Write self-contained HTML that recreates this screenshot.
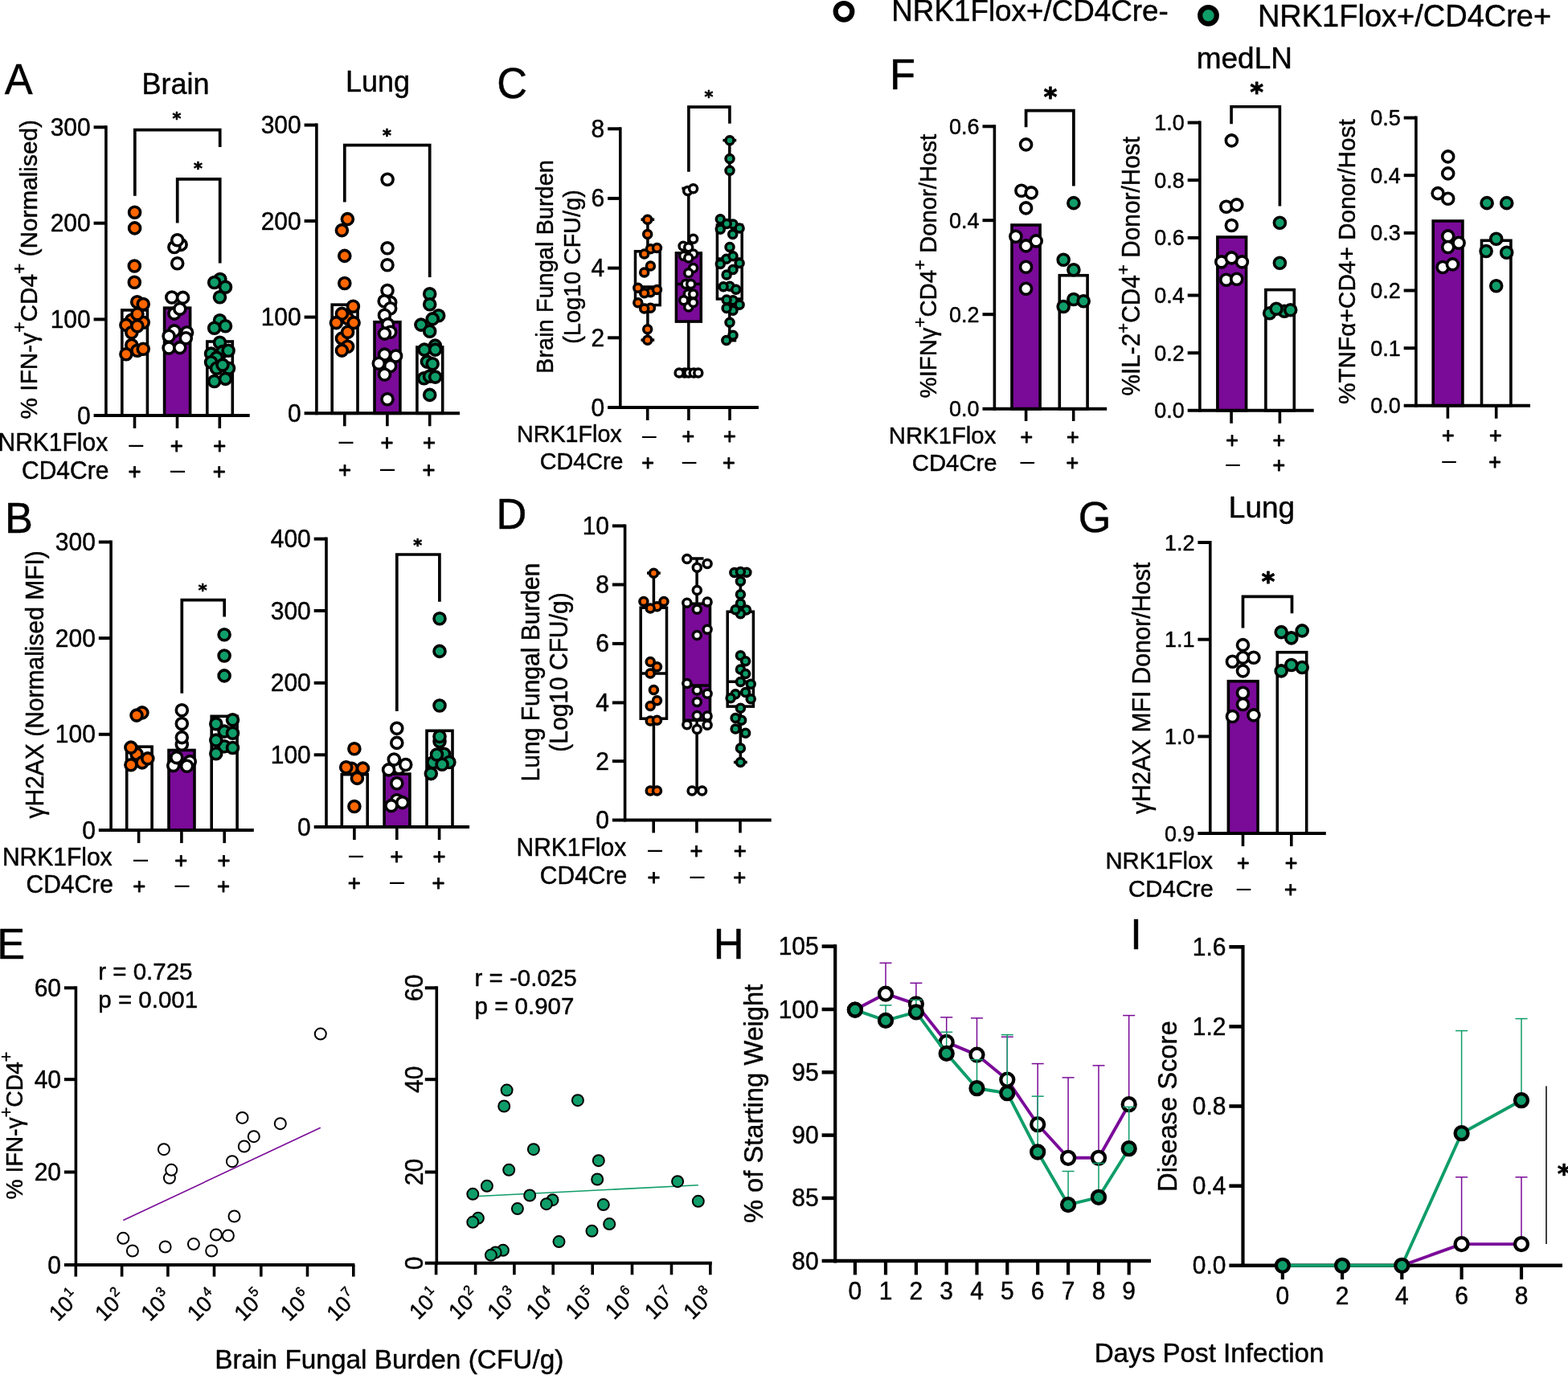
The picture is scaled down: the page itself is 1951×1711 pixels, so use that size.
<!DOCTYPE html>
<html lang="en">
<head>
<meta charset="utf-8">
<title>Figure</title>
<style>
html,body{margin:0;padding:0;background:#fff;}
body{width:1951px;height:1711px;overflow:hidden;}
svg{display:block;}
svg text{font-family:"Liberation Sans", Arial, Helvetica, sans-serif;fill:#000;}
</style>
</head>
<body>
<svg xmlns="http://www.w3.org/2000/svg" width="1951" height="1711" viewBox="0 0 1951 1711">
<rect x="0" y="0" width="1951" height="1711" fill="#fff"/>
<text transform="translate(5.7 117.1) scale(1 1.015)" font-size="52.4" stroke="#000" stroke-width="0.45" stroke-linejoin="round">A</text>
<text transform="translate(218.6 117.1) scale(1 1.020)" font-size="36" text-anchor="middle" stroke="#000" stroke-width="0.45" stroke-linejoin="round">Brain</text>
<rect x="151.8" y="385.9" width="31.6" height="131.1" fill="#FFFFFF" stroke="#000000" stroke-width="3.6"/>
<rect x="204.6" y="383.2" width="32" height="133.8" fill="#7A0A98" stroke="#000000" stroke-width="3.6"/>
<rect x="257.8" y="425" width="31.5" height="92" fill="#FFFFFF" stroke="#000000" stroke-width="3.6"/>
<line x1="131.9" y1="156.3" x2="131.9" y2="519" stroke="#000000" stroke-width="3.6" stroke-linecap="butt"/>
<line x1="116.6" y1="517" x2="310.7" y2="517" stroke="#000000" stroke-width="4" stroke-linecap="butt"/>
<line x1="116.6" y1="158.3" x2="131.9" y2="158.3" stroke="#000000" stroke-width="4" stroke-linecap="butt"/>
<text transform="translate(112.7 168.8) scale(1 1.020)" font-size="30" text-anchor="end" stroke="#000" stroke-width="0.45" stroke-linejoin="round">300</text>
<line x1="116.6" y1="277.7" x2="131.9" y2="277.7" stroke="#000000" stroke-width="4" stroke-linecap="butt"/>
<text transform="translate(112.7 288.2) scale(1 1.020)" font-size="30" text-anchor="end" stroke="#000" stroke-width="0.45" stroke-linejoin="round">200</text>
<line x1="116.6" y1="397.4" x2="131.9" y2="397.4" stroke="#000000" stroke-width="4" stroke-linecap="butt"/>
<text transform="translate(112.7 407.9) scale(1 1.020)" font-size="30" text-anchor="end" stroke="#000" stroke-width="0.45" stroke-linejoin="round">100</text>
<text transform="translate(112.7 527.5) scale(1 1.020)" font-size="30" text-anchor="end" stroke="#000" stroke-width="0.45" stroke-linejoin="round">0</text>
<line x1="167.5" y1="517" x2="167.5" y2="533" stroke="#000000" stroke-width="3.6" stroke-linecap="butt"/>
<line x1="220.5" y1="517" x2="220.5" y2="533" stroke="#000000" stroke-width="3.6" stroke-linecap="butt"/>
<line x1="273.3" y1="517" x2="273.3" y2="533" stroke="#000000" stroke-width="3.6" stroke-linecap="butt"/>
<text transform="translate(45.6 521.4) rotate(-90) scale(1 1.020)" font-size="29.8" stroke="#000" stroke-width="0.45" stroke-linejoin="round">% IFN-γ<tspan dy="-13" font-size="22.7">+</tspan><tspan dy="13">CD4</tspan><tspan dy="-13" font-size="22.7">+</tspan><tspan dy="13"> (Normalised)</tspan></text>
<circle cx="167.6" cy="264.2" r="7" fill="#FF6600" stroke="#000000" stroke-width="3.6"/>
<circle cx="167.6" cy="283.9" r="7" fill="#FF6600" stroke="#000000" stroke-width="3.6"/>
<circle cx="167.3" cy="331" r="7" fill="#FF6600" stroke="#000000" stroke-width="3.6"/>
<circle cx="167.3" cy="351.3" r="7" fill="#FF6600" stroke="#000000" stroke-width="3.6"/>
<circle cx="170.7" cy="375.7" r="7" fill="#FF6600" stroke="#000000" stroke-width="3.6"/>
<circle cx="178.2" cy="378.5" r="7" fill="#FF6600" stroke="#000000" stroke-width="3.6"/>
<circle cx="163.8" cy="398.2" r="7" fill="#FF6600" stroke="#000000" stroke-width="3.6"/>
<circle cx="178.2" cy="401.3" r="7" fill="#FF6600" stroke="#000000" stroke-width="3.6"/>
<circle cx="170.9" cy="390.7" r="7" fill="#FF6600" stroke="#000000" stroke-width="3.6"/>
<circle cx="156.9" cy="404.4" r="7" fill="#FF6600" stroke="#000000" stroke-width="3.6"/>
<circle cx="163.8" cy="413.8" r="7" fill="#FF6600" stroke="#000000" stroke-width="3.6"/>
<circle cx="170.9" cy="405.7" r="7" fill="#FF6600" stroke="#000000" stroke-width="3.6"/>
<circle cx="163.8" cy="429.5" r="7" fill="#FF6600" stroke="#000000" stroke-width="3.6"/>
<circle cx="170.9" cy="436.3" r="7" fill="#FF6600" stroke="#000000" stroke-width="3.6"/>
<circle cx="178.2" cy="434.2" r="7" fill="#FF6600" stroke="#000000" stroke-width="3.6"/>
<circle cx="156.9" cy="440.7" r="7" fill="#FF6600" stroke="#000000" stroke-width="3.6"/>
<circle cx="225.1" cy="304.4" r="7" fill="#FFFFFF" stroke="#000000" stroke-width="3.6"/>
<circle cx="216.9" cy="307.5" r="7" fill="#FFFFFF" stroke="#000000" stroke-width="3.6"/>
<circle cx="220.7" cy="298.8" r="7" fill="#FFFFFF" stroke="#000000" stroke-width="3.6"/>
<circle cx="220.7" cy="327.8" r="7" fill="#FFFFFF" stroke="#000000" stroke-width="3.6"/>
<circle cx="213.8" cy="370" r="7" fill="#FFFFFF" stroke="#000000" stroke-width="3.6"/>
<circle cx="227.6" cy="370.4" r="7" fill="#FFFFFF" stroke="#000000" stroke-width="3.6"/>
<circle cx="216.9" cy="390.1" r="7" fill="#FFFFFF" stroke="#000000" stroke-width="3.6"/>
<circle cx="223.8" cy="384.4" r="7" fill="#FFFFFF" stroke="#000000" stroke-width="3.6"/>
<circle cx="216.9" cy="411.9" r="7" fill="#FFFFFF" stroke="#000000" stroke-width="3.6"/>
<circle cx="232.6" cy="413.8" r="7" fill="#FFFFFF" stroke="#000000" stroke-width="3.6"/>
<circle cx="210.1" cy="418.2" r="7" fill="#FFFFFF" stroke="#000000" stroke-width="3.6"/>
<circle cx="231.3" cy="420.7" r="7" fill="#FFFFFF" stroke="#000000" stroke-width="3.6"/>
<circle cx="210.1" cy="433" r="7" fill="#FFFFFF" stroke="#000000" stroke-width="3.6"/>
<circle cx="223.8" cy="432.6" r="7" fill="#FFFFFF" stroke="#000000" stroke-width="3.6"/>
<circle cx="273.9" cy="347.5" r="7" fill="#0F9D69" stroke="#000000" stroke-width="3.6"/>
<circle cx="266.7" cy="351.5" r="7" fill="#0F9D69" stroke="#000000" stroke-width="3.6"/>
<circle cx="280.5" cy="357.2" r="7" fill="#0F9D69" stroke="#000000" stroke-width="3.6"/>
<circle cx="273.5" cy="369.7" r="7" fill="#0F9D69" stroke="#000000" stroke-width="3.6"/>
<circle cx="273.5" cy="398.8" r="7" fill="#0F9D69" stroke="#000000" stroke-width="3.6"/>
<circle cx="266.7" cy="408.2" r="7" fill="#0F9D69" stroke="#000000" stroke-width="3.6"/>
<circle cx="280.5" cy="405.7" r="7" fill="#0F9D69" stroke="#000000" stroke-width="3.6"/>
<circle cx="273.5" cy="426.3" r="7" fill="#0F9D69" stroke="#000000" stroke-width="3.6"/>
<circle cx="262.6" cy="440.1" r="7" fill="#0F9D69" stroke="#000000" stroke-width="3.6"/>
<circle cx="277" cy="437.6" r="7" fill="#0F9D69" stroke="#000000" stroke-width="3.6"/>
<circle cx="284.1" cy="436.3" r="7" fill="#0F9D69" stroke="#000000" stroke-width="3.6"/>
<circle cx="269.5" cy="445.1" r="7" fill="#0F9D69" stroke="#000000" stroke-width="3.6"/>
<circle cx="262.6" cy="450.7" r="7" fill="#0F9D69" stroke="#000000" stroke-width="3.6"/>
<circle cx="269.5" cy="458.2" r="7" fill="#0F9D69" stroke="#000000" stroke-width="3.6"/>
<circle cx="284.5" cy="458.2" r="7" fill="#0F9D69" stroke="#000000" stroke-width="3.6"/>
<circle cx="277" cy="454.1" r="7" fill="#0F9D69" stroke="#000000" stroke-width="3.6"/>
<circle cx="266.7" cy="474.5" r="7" fill="#0F9D69" stroke="#000000" stroke-width="3.6"/>
<circle cx="280.5" cy="471.4" r="7" fill="#0F9D69" stroke="#000000" stroke-width="3.6"/>
<path d="M167.8 243.8V161.6H273.7V183" fill="none" stroke="#000000" stroke-width="3.7" stroke-linejoin="miter" stroke-linecap="butt"/>
<text transform="translate(220 155.3) scale(1 1.001)" font-size="20.8" text-anchor="middle" font-weight="bold" style="font-family:'DejaVu Sans', 'Liberation Sans', sans-serif" stroke="#000" stroke-width="0.7" stroke-linejoin="round">*</text>
<path d="M220.7 277.4V222.9H273.7V327.4" fill="none" stroke="#000000" stroke-width="3.7" stroke-linejoin="miter" stroke-linecap="butt"/>
<text transform="translate(246.4 216.8) scale(1 1.001)" font-size="20.8" text-anchor="middle" font-weight="bold" style="font-family:'DejaVu Sans', 'Liberation Sans', sans-serif" stroke="#000" stroke-width="0.7" stroke-linejoin="round">*</text>
<text transform="translate(134.2 561.3) scale(1 1.020)" font-size="30" text-anchor="end" stroke="#000" stroke-width="0.45" stroke-linejoin="round">NRK1Flox</text>
<text transform="translate(135.4 595.8) scale(1 1.020)" font-size="30" text-anchor="end" stroke="#000" stroke-width="0.45" stroke-linejoin="round">CD4Cre</text>
<text transform="translate(169.3 562.9) scale(1 1.001)" font-size="32.4" text-anchor="middle">–</text>
<text transform="translate(219.8 563.8) scale(1 1.001)" font-size="27.45" text-anchor="middle" stroke="#000" stroke-width="0.9" stroke-linejoin="round">+</text>
<text transform="translate(273.3 563.8) scale(1 1.001)" font-size="27.45" text-anchor="middle" stroke="#000" stroke-width="0.9" stroke-linejoin="round">+</text>
<text transform="translate(167.5 596.1) scale(1 1.001)" font-size="27.45" text-anchor="middle" stroke="#000" stroke-width="0.9" stroke-linejoin="round">+</text>
<text transform="translate(221 595.2) scale(1 1.001)" font-size="32.4" text-anchor="middle">–</text>
<text transform="translate(272.8 596.1) scale(1 1.001)" font-size="27.45" text-anchor="middle" stroke="#000" stroke-width="0.9" stroke-linejoin="round">+</text>
<text transform="translate(470 114) scale(1 1.020)" font-size="36" text-anchor="middle" stroke="#000" stroke-width="0.45" stroke-linejoin="round">Lung</text>
<rect x="413.2" y="379.2" width="31.8" height="135.1" fill="#FFFFFF" stroke="#000000" stroke-width="3.6"/>
<rect x="466" y="400.7" width="31.9" height="113.6" fill="#7A0A98" stroke="#000000" stroke-width="3.6"/>
<rect x="518.9" y="432" width="31.8" height="82.3" fill="#FFFFFF" stroke="#000000" stroke-width="3.6"/>
<line x1="393.9" y1="153.6" x2="393.9" y2="516.3" stroke="#000000" stroke-width="3.6" stroke-linecap="butt"/>
<line x1="378.6" y1="514.3" x2="572" y2="514.3" stroke="#000000" stroke-width="4" stroke-linecap="butt"/>
<line x1="378.6" y1="155.6" x2="393.9" y2="155.6" stroke="#000000" stroke-width="4" stroke-linecap="butt"/>
<text transform="translate(374.7 166.1) scale(1 1.020)" font-size="30" text-anchor="end" stroke="#000" stroke-width="0.45" stroke-linejoin="round">300</text>
<line x1="378.6" y1="275" x2="393.9" y2="275" stroke="#000000" stroke-width="4" stroke-linecap="butt"/>
<text transform="translate(374.7 285.5) scale(1 1.020)" font-size="30" text-anchor="end" stroke="#000" stroke-width="0.45" stroke-linejoin="round">200</text>
<line x1="378.6" y1="394.6" x2="393.9" y2="394.6" stroke="#000000" stroke-width="4" stroke-linecap="butt"/>
<text transform="translate(374.7 405.1) scale(1 1.020)" font-size="30" text-anchor="end" stroke="#000" stroke-width="0.45" stroke-linejoin="round">100</text>
<text transform="translate(374.7 524.8) scale(1 1.020)" font-size="30" text-anchor="end" stroke="#000" stroke-width="0.45" stroke-linejoin="round">0</text>
<line x1="428.8" y1="514.3" x2="428.8" y2="530.3" stroke="#000000" stroke-width="3.6" stroke-linecap="butt"/>
<line x1="481.9" y1="514.3" x2="481.9" y2="530.3" stroke="#000000" stroke-width="3.6" stroke-linecap="butt"/>
<line x1="534.7" y1="514.3" x2="534.7" y2="530.3" stroke="#000000" stroke-width="3.6" stroke-linecap="butt"/>
<circle cx="432.4" cy="272.6" r="7" fill="#FF6600" stroke="#000000" stroke-width="3.6"/>
<circle cx="425.4" cy="286.6" r="7" fill="#FF6600" stroke="#000000" stroke-width="3.6"/>
<circle cx="428.8" cy="318.4" r="7" fill="#FF6600" stroke="#000000" stroke-width="3.6"/>
<circle cx="428.8" cy="352.5" r="7" fill="#FF6600" stroke="#000000" stroke-width="3.6"/>
<circle cx="439.4" cy="381.3" r="7" fill="#FF6600" stroke="#000000" stroke-width="3.6"/>
<circle cx="432.6" cy="396.3" r="7" fill="#FF6600" stroke="#000000" stroke-width="3.6"/>
<circle cx="425.4" cy="390.4" r="7" fill="#FF6600" stroke="#000000" stroke-width="3.6"/>
<circle cx="440.1" cy="401.6" r="7" fill="#FF6600" stroke="#000000" stroke-width="3.6"/>
<circle cx="418.4" cy="401.6" r="7" fill="#FF6600" stroke="#000000" stroke-width="3.6"/>
<circle cx="425.4" cy="421.1" r="7" fill="#FF6600" stroke="#000000" stroke-width="3.6"/>
<circle cx="432.6" cy="413.2" r="7" fill="#FF6600" stroke="#000000" stroke-width="3.6"/>
<circle cx="432.6" cy="431.3" r="7" fill="#FF6600" stroke="#000000" stroke-width="3.6"/>
<circle cx="425.4" cy="436.1" r="7" fill="#FF6600" stroke="#000000" stroke-width="3.6"/>
<circle cx="482.1" cy="223.2" r="7" fill="#FFFFFF" stroke="#000000" stroke-width="3.6"/>
<circle cx="482" cy="308.8" r="7" fill="#FFFFFF" stroke="#000000" stroke-width="3.6"/>
<circle cx="482" cy="329.8" r="7" fill="#FFFFFF" stroke="#000000" stroke-width="3.6"/>
<circle cx="482" cy="361.5" r="7" fill="#FFFFFF" stroke="#000000" stroke-width="3.6"/>
<circle cx="485.7" cy="376.3" r="7" fill="#FFFFFF" stroke="#000000" stroke-width="3.6"/>
<circle cx="478.2" cy="374.8" r="7" fill="#FFFFFF" stroke="#000000" stroke-width="3.6"/>
<circle cx="485.7" cy="383.8" r="7" fill="#FFFFFF" stroke="#000000" stroke-width="3.6"/>
<circle cx="478.5" cy="392.2" r="7" fill="#FFFFFF" stroke="#000000" stroke-width="3.6"/>
<circle cx="482.6" cy="403.6" r="7" fill="#FFFFFF" stroke="#000000" stroke-width="3.6"/>
<circle cx="485.7" cy="413.2" r="7" fill="#FFFFFF" stroke="#000000" stroke-width="3.6"/>
<circle cx="478.5" cy="415.1" r="7" fill="#FFFFFF" stroke="#000000" stroke-width="3.6"/>
<circle cx="478.5" cy="441.1" r="7" fill="#FFFFFF" stroke="#000000" stroke-width="3.6"/>
<circle cx="492.6" cy="443" r="7" fill="#FFFFFF" stroke="#000000" stroke-width="3.6"/>
<circle cx="485.7" cy="455.5" r="7" fill="#FFFFFF" stroke="#000000" stroke-width="3.6"/>
<circle cx="471.3" cy="452.3" r="7" fill="#FFFFFF" stroke="#000000" stroke-width="3.6"/>
<circle cx="478.5" cy="466" r="7" fill="#FFFFFF" stroke="#000000" stroke-width="3.6"/>
<circle cx="482" cy="496.7" r="7" fill="#FFFFFF" stroke="#000000" stroke-width="3.6"/>
<circle cx="534.7" cy="365.7" r="7" fill="#0F9D69" stroke="#000000" stroke-width="3.6"/>
<circle cx="534.7" cy="378.8" r="7" fill="#0F9D69" stroke="#000000" stroke-width="3.6"/>
<circle cx="545.7" cy="392.8" r="7" fill="#0F9D69" stroke="#000000" stroke-width="3.6"/>
<circle cx="538.2" cy="396.9" r="7" fill="#0F9D69" stroke="#000000" stroke-width="3.6"/>
<circle cx="523.9" cy="404.1" r="7" fill="#0F9D69" stroke="#000000" stroke-width="3.6"/>
<circle cx="534.7" cy="412.3" r="7" fill="#0F9D69" stroke="#000000" stroke-width="3.6"/>
<circle cx="541.4" cy="430.1" r="7" fill="#0F9D69" stroke="#000000" stroke-width="3.6"/>
<circle cx="528" cy="435.1" r="7" fill="#0F9D69" stroke="#000000" stroke-width="3.6"/>
<circle cx="541.6" cy="435.1" r="7" fill="#0F9D69" stroke="#000000" stroke-width="3.6"/>
<circle cx="531.4" cy="450.1" r="7" fill="#0F9D69" stroke="#000000" stroke-width="3.6"/>
<circle cx="538.2" cy="452.8" r="7" fill="#0F9D69" stroke="#000000" stroke-width="3.6"/>
<circle cx="527.6" cy="470.7" r="7" fill="#0F9D69" stroke="#000000" stroke-width="3.6"/>
<circle cx="534.5" cy="468.2" r="7" fill="#0F9D69" stroke="#000000" stroke-width="3.6"/>
<circle cx="541.6" cy="469.1" r="7" fill="#0F9D69" stroke="#000000" stroke-width="3.6"/>
<circle cx="534.7" cy="491.4" r="7" fill="#0F9D69" stroke="#000000" stroke-width="3.6"/>
<path d="M428.8 251.6V180.6H534.7V344.9" fill="none" stroke="#000000" stroke-width="3.7" stroke-linejoin="miter" stroke-linecap="butt"/>
<text transform="translate(481.4 175.9) scale(1 1.001)" font-size="20.8" text-anchor="middle" font-weight="bold" style="font-family:'DejaVu Sans', 'Liberation Sans', sans-serif" stroke="#000" stroke-width="0.7" stroke-linejoin="round">*</text>
<text transform="translate(430.4 559) scale(1 1.001)" font-size="32.4" text-anchor="middle">–</text>
<text transform="translate(481.4 559.9) scale(1 1.001)" font-size="27.45" text-anchor="middle" stroke="#000" stroke-width="0.9" stroke-linejoin="round">+</text>
<text transform="translate(534.1 559.9) scale(1 1.001)" font-size="27.45" text-anchor="middle" stroke="#000" stroke-width="0.9" stroke-linejoin="round">+</text>
<text transform="translate(429.1 593.9) scale(1 1.001)" font-size="27.45" text-anchor="middle" stroke="#000" stroke-width="0.9" stroke-linejoin="round">+</text>
<text transform="translate(482.1 593) scale(1 1.001)" font-size="32.4" text-anchor="middle">–</text>
<text transform="translate(533.4 593.9) scale(1 1.001)" font-size="27.45" text-anchor="middle" stroke="#000" stroke-width="0.9" stroke-linejoin="round">+</text>
<text transform="translate(5.9 663.4) scale(1 1.015)" font-size="52.4" stroke="#000" stroke-width="0.45" stroke-linejoin="round">B</text>
<rect x="157.7" y="929.2" width="31.4" height="103.9" fill="#FFFFFF" stroke="#000000" stroke-width="3.6"/>
<rect x="210" y="933.5" width="32" height="99.6" fill="#7A0A98" stroke="#000000" stroke-width="3.6"/>
<rect x="263.2" y="891.3" width="31.9" height="141.8" fill="#FFFFFF" stroke="#000000" stroke-width="3.6"/>
<line x1="138.1" y1="672.5" x2="138.1" y2="1035.1" stroke="#000000" stroke-width="3.6" stroke-linecap="butt"/>
<line x1="122.8" y1="1033.1" x2="315.8" y2="1033.1" stroke="#000000" stroke-width="4" stroke-linecap="butt"/>
<line x1="122.8" y1="674.5" x2="138.1" y2="674.5" stroke="#000000" stroke-width="4" stroke-linecap="butt"/>
<text transform="translate(118.9 685) scale(1 1.020)" font-size="30" text-anchor="end" stroke="#000" stroke-width="0.45" stroke-linejoin="round">300</text>
<line x1="122.8" y1="794.1" x2="138.1" y2="794.1" stroke="#000000" stroke-width="4" stroke-linecap="butt"/>
<text transform="translate(118.9 804.6) scale(1 1.020)" font-size="30" text-anchor="end" stroke="#000" stroke-width="0.45" stroke-linejoin="round">200</text>
<line x1="122.8" y1="913.8" x2="138.1" y2="913.8" stroke="#000000" stroke-width="4" stroke-linecap="butt"/>
<text transform="translate(118.9 924.3) scale(1 1.020)" font-size="30" text-anchor="end" stroke="#000" stroke-width="0.45" stroke-linejoin="round">100</text>
<text transform="translate(118.9 1043.6) scale(1 1.020)" font-size="30" text-anchor="end" stroke="#000" stroke-width="0.45" stroke-linejoin="round">0</text>
<line x1="172.6" y1="1033.1" x2="172.6" y2="1049.1" stroke="#000000" stroke-width="3.6" stroke-linecap="butt"/>
<line x1="225.9" y1="1033.1" x2="225.9" y2="1049.1" stroke="#000000" stroke-width="3.6" stroke-linecap="butt"/>
<line x1="279.2" y1="1033.1" x2="279.2" y2="1049.1" stroke="#000000" stroke-width="3.6" stroke-linecap="butt"/>
<text transform="translate(53.6 1018.5) rotate(-90) scale(1 1.020)" font-size="30" stroke="#000" stroke-width="0.45" stroke-linejoin="round">γH2AX (Normalised MFI)</text>
<circle cx="176.9" cy="886.9" r="7" fill="#FF6600" stroke="#000000" stroke-width="3.6"/>
<circle cx="170" cy="890.1" r="7" fill="#FF6600" stroke="#000000" stroke-width="3.6"/>
<circle cx="170" cy="938.2" r="7" fill="#FF6600" stroke="#000000" stroke-width="3.6"/>
<circle cx="162.9" cy="930.1" r="7" fill="#FF6600" stroke="#000000" stroke-width="3.6"/>
<circle cx="176.9" cy="948.9" r="7" fill="#FF6600" stroke="#000000" stroke-width="3.6"/>
<circle cx="183.8" cy="943.9" r="7" fill="#FF6600" stroke="#000000" stroke-width="3.6"/>
<circle cx="162.9" cy="951.7" r="7" fill="#FF6600" stroke="#000000" stroke-width="3.6"/>
<circle cx="226.3" cy="883.8" r="7" fill="#FFFFFF" stroke="#000000" stroke-width="3.6"/>
<circle cx="226.3" cy="900.5" r="7" fill="#FFFFFF" stroke="#000000" stroke-width="3.6"/>
<circle cx="226.3" cy="926.3" r="7" fill="#FFFFFF" stroke="#000000" stroke-width="3.6"/>
<circle cx="226.3" cy="917.6" r="7" fill="#FFFFFF" stroke="#000000" stroke-width="3.6"/>
<circle cx="236.3" cy="947.6" r="7" fill="#FFFFFF" stroke="#000000" stroke-width="3.6"/>
<circle cx="215.7" cy="952.6" r="7" fill="#FFFFFF" stroke="#000000" stroke-width="3.6"/>
<circle cx="219.8" cy="942.6" r="7" fill="#FFFFFF" stroke="#000000" stroke-width="3.6"/>
<circle cx="232.6" cy="953.2" r="7" fill="#FFFFFF" stroke="#000000" stroke-width="3.6"/>
<circle cx="279.1" cy="789.8" r="7" fill="#0F9D69" stroke="#000000" stroke-width="3.6"/>
<circle cx="279.1" cy="816" r="7" fill="#0F9D69" stroke="#000000" stroke-width="3.6"/>
<circle cx="279.1" cy="840.9" r="7" fill="#0F9D69" stroke="#000000" stroke-width="3.6"/>
<circle cx="279.1" cy="910.1" r="7" fill="#0F9D69" stroke="#000000" stroke-width="3.6"/>
<circle cx="289.5" cy="895.7" r="7" fill="#0F9D69" stroke="#000000" stroke-width="3.6"/>
<circle cx="268.8" cy="900.7" r="7" fill="#0F9D69" stroke="#000000" stroke-width="3.6"/>
<circle cx="289.5" cy="912.2" r="7" fill="#0F9D69" stroke="#000000" stroke-width="3.6"/>
<circle cx="279.1" cy="928.8" r="7" fill="#0F9D69" stroke="#000000" stroke-width="3.6"/>
<circle cx="268.8" cy="921.1" r="7" fill="#0F9D69" stroke="#000000" stroke-width="3.6"/>
<circle cx="289.5" cy="930.5" r="7" fill="#0F9D69" stroke="#000000" stroke-width="3.6"/>
<circle cx="268.8" cy="937.8" r="7" fill="#0F9D69" stroke="#000000" stroke-width="3.6"/>
<path d="M226.3 862.8V746.6H279.2V767.6" fill="none" stroke="#000000" stroke-width="3.7" stroke-linejoin="miter" stroke-linecap="butt"/>
<text transform="translate(252.2 741.5) scale(1 1.001)" font-size="20.8" text-anchor="middle" font-weight="bold" style="font-family:'DejaVu Sans', 'Liberation Sans', sans-serif" stroke="#000" stroke-width="0.7" stroke-linejoin="round">*</text>
<text transform="translate(139.6 1077.4) scale(1 1.020)" font-size="30" text-anchor="end" stroke="#000" stroke-width="0.45" stroke-linejoin="round">NRK1Flox</text>
<text transform="translate(140.9 1111.4) scale(1 1.020)" font-size="30" text-anchor="end" stroke="#000" stroke-width="0.45" stroke-linejoin="round">CD4Cre</text>
<text transform="translate(174.9 1079) scale(1 1.001)" font-size="32.4" text-anchor="middle">–</text>
<text transform="translate(225.2 1079.9) scale(1 1.001)" font-size="27.45" text-anchor="middle" stroke="#000" stroke-width="0.9" stroke-linejoin="round">+</text>
<text transform="translate(278.5 1079.9) scale(1 1.001)" font-size="27.45" text-anchor="middle" stroke="#000" stroke-width="0.9" stroke-linejoin="round">+</text>
<text transform="translate(173.2 1112.2) scale(1 1.001)" font-size="27.45" text-anchor="middle" stroke="#000" stroke-width="0.9" stroke-linejoin="round">+</text>
<text transform="translate(226.6 1111.3) scale(1 1.001)" font-size="32.4" text-anchor="middle">–</text>
<text transform="translate(277.9 1112.2) scale(1 1.001)" font-size="27.45" text-anchor="middle" stroke="#000" stroke-width="0.9" stroke-linejoin="round">+</text>
<rect x="425.3" y="963.7" width="31.9" height="65.4" fill="#FFFFFF" stroke="#000000" stroke-width="3.6"/>
<rect x="478.1" y="963.1" width="31.8" height="66" fill="#7A0A98" stroke="#000000" stroke-width="3.6"/>
<rect x="531" y="909.3" width="32" height="119.8" fill="#FFFFFF" stroke="#000000" stroke-width="3.6"/>
<line x1="406" y1="668.6" x2="406" y2="1031.1" stroke="#000000" stroke-width="3.6" stroke-linecap="butt"/>
<line x1="390.7" y1="1029.1" x2="584.1" y2="1029.1" stroke="#000000" stroke-width="4" stroke-linecap="butt"/>
<line x1="390.7" y1="670.6" x2="406" y2="670.6" stroke="#000000" stroke-width="4" stroke-linecap="butt"/>
<text transform="translate(386.8 681.1) scale(1 1.020)" font-size="30" text-anchor="end" stroke="#000" stroke-width="0.45" stroke-linejoin="round">400</text>
<line x1="390.7" y1="760" x2="406" y2="760" stroke="#000000" stroke-width="4" stroke-linecap="butt"/>
<text transform="translate(386.8 770.5) scale(1 1.020)" font-size="30" text-anchor="end" stroke="#000" stroke-width="0.45" stroke-linejoin="round">300</text>
<line x1="390.7" y1="849.8" x2="406" y2="849.8" stroke="#000000" stroke-width="4" stroke-linecap="butt"/>
<text transform="translate(386.8 860.3) scale(1 1.020)" font-size="30" text-anchor="end" stroke="#000" stroke-width="0.45" stroke-linejoin="round">200</text>
<line x1="390.7" y1="939.3" x2="406" y2="939.3" stroke="#000000" stroke-width="4" stroke-linecap="butt"/>
<text transform="translate(386.8 949.8) scale(1 1.020)" font-size="30" text-anchor="end" stroke="#000" stroke-width="0.45" stroke-linejoin="round">100</text>
<text transform="translate(386.8 1039.6) scale(1 1.020)" font-size="30" text-anchor="end" stroke="#000" stroke-width="0.45" stroke-linejoin="round">0</text>
<line x1="440.9" y1="1029.1" x2="440.9" y2="1045.1" stroke="#000000" stroke-width="3.6" stroke-linecap="butt"/>
<line x1="493.8" y1="1029.1" x2="493.8" y2="1045.1" stroke="#000000" stroke-width="3.6" stroke-linecap="butt"/>
<line x1="546.6" y1="1029.1" x2="546.6" y2="1045.1" stroke="#000000" stroke-width="3.6" stroke-linecap="butt"/>
<circle cx="440.9" cy="931.7" r="7" fill="#FF6600" stroke="#000000" stroke-width="3.6"/>
<circle cx="437.5" cy="956.3" r="7" fill="#FF6600" stroke="#000000" stroke-width="3.6"/>
<circle cx="430.7" cy="954.8" r="7" fill="#FF6600" stroke="#000000" stroke-width="3.6"/>
<circle cx="451.5" cy="956.1" r="7" fill="#FF6600" stroke="#000000" stroke-width="3.6"/>
<circle cx="444.4" cy="968.4" r="7" fill="#FF6600" stroke="#000000" stroke-width="3.6"/>
<circle cx="440.9" cy="1003.5" r="7" fill="#FF6600" stroke="#000000" stroke-width="3.6"/>
<circle cx="493.8" cy="906.3" r="7" fill="#FFFFFF" stroke="#000000" stroke-width="3.6"/>
<circle cx="493.8" cy="924.4" r="7" fill="#FFFFFF" stroke="#000000" stroke-width="3.6"/>
<circle cx="496.3" cy="955.7" r="7" fill="#FFFFFF" stroke="#000000" stroke-width="3.6"/>
<circle cx="490.3" cy="945" r="7" fill="#FFFFFF" stroke="#000000" stroke-width="3.6"/>
<circle cx="483.6" cy="957.9" r="7" fill="#FFFFFF" stroke="#000000" stroke-width="3.6"/>
<circle cx="504.7" cy="951.5" r="7" fill="#FFFFFF" stroke="#000000" stroke-width="3.6"/>
<circle cx="493.8" cy="974.7" r="7" fill="#FFFFFF" stroke="#000000" stroke-width="3.6"/>
<circle cx="493.8" cy="995.7" r="7" fill="#FFFFFF" stroke="#000000" stroke-width="3.6"/>
<circle cx="486.9" cy="1002.6" r="7" fill="#FFFFFF" stroke="#000000" stroke-width="3.6"/>
<circle cx="500.7" cy="998.6" r="7" fill="#FFFFFF" stroke="#000000" stroke-width="3.6"/>
<circle cx="547" cy="769.8" r="7" fill="#0F9D69" stroke="#000000" stroke-width="3.6"/>
<circle cx="547" cy="810.4" r="7" fill="#0F9D69" stroke="#000000" stroke-width="3.6"/>
<circle cx="547" cy="878" r="7" fill="#0F9D69" stroke="#000000" stroke-width="3.6"/>
<circle cx="547" cy="922.5" r="7" fill="#0F9D69" stroke="#000000" stroke-width="3.6"/>
<circle cx="547" cy="916.5" r="7" fill="#0F9D69" stroke="#000000" stroke-width="3.6"/>
<circle cx="552.6" cy="938.2" r="7" fill="#0F9D69" stroke="#000000" stroke-width="3.6"/>
<circle cx="538.8" cy="948.8" r="7" fill="#0F9D69" stroke="#000000" stroke-width="3.6"/>
<circle cx="543.5" cy="939" r="7" fill="#0F9D69" stroke="#000000" stroke-width="3.6"/>
<circle cx="558.9" cy="948.5" r="7" fill="#0F9D69" stroke="#000000" stroke-width="3.6"/>
<circle cx="550.1" cy="951.3" r="7" fill="#0F9D69" stroke="#000000" stroke-width="3.6"/>
<circle cx="536.3" cy="962.6" r="7" fill="#0F9D69" stroke="#000000" stroke-width="3.6"/>
<path d="M493.8 885V690H546.9V748.7" fill="none" stroke="#000000" stroke-width="3.7" stroke-linejoin="miter" stroke-linecap="butt"/>
<text transform="translate(519.7 685.6) scale(1 1.001)" font-size="20.8" text-anchor="middle" font-weight="bold" style="font-family:'DejaVu Sans', 'Liberation Sans', sans-serif" stroke="#000" stroke-width="0.7" stroke-linejoin="round">*</text>
<text transform="translate(442.9 1074.3) scale(1 1.001)" font-size="32.4" text-anchor="middle">–</text>
<text transform="translate(493.4 1075.2) scale(1 1.001)" font-size="27.45" text-anchor="middle" stroke="#000" stroke-width="0.9" stroke-linejoin="round">+</text>
<text transform="translate(546.6 1075.2) scale(1 1.001)" font-size="27.45" text-anchor="middle" stroke="#000" stroke-width="0.9" stroke-linejoin="round">+</text>
<text transform="translate(440.8 1108.2) scale(1 1.001)" font-size="27.45" text-anchor="middle" stroke="#000" stroke-width="0.9" stroke-linejoin="round">+</text>
<text transform="translate(494.1 1107.3) scale(1 1.001)" font-size="32.4" text-anchor="middle">–</text>
<text transform="translate(545.4 1108.2) scale(1 1.001)" font-size="27.45" text-anchor="middle" stroke="#000" stroke-width="0.9" stroke-linejoin="round">+</text>
<text transform="translate(618.2 122.3) scale(1 1.015)" font-size="52.4" stroke="#000" stroke-width="0.45" stroke-linejoin="round">C</text>
<line x1="805.9" y1="273.2" x2="805.9" y2="423.1" stroke="#000000" stroke-width="3.5" stroke-linecap="butt"/>
<line x1="797.5" y1="273.2" x2="814.2" y2="273.2" stroke="#000000" stroke-width="3.5" stroke-linecap="butt"/>
<line x1="797.5" y1="423.1" x2="814.2" y2="423.1" stroke="#000000" stroke-width="3.5" stroke-linecap="butt"/>
<rect x="790.5" y="312.8" width="30.7" height="66.8" fill="#FFFFFF" stroke="#000000" stroke-width="3.5"/>
<line x1="790.5" y1="357" x2="821.2" y2="357" stroke="#000000" stroke-width="3.5" stroke-linecap="butt"/>
<line x1="856.8" y1="234.4" x2="856.8" y2="464" stroke="#000000" stroke-width="3.5" stroke-linecap="butt"/>
<line x1="848.4" y1="234.4" x2="865.2" y2="234.4" stroke="#000000" stroke-width="3.5" stroke-linecap="butt"/>
<line x1="848.4" y1="464" x2="865.2" y2="464" stroke="#000000" stroke-width="3.5" stroke-linecap="butt"/>
<rect x="841.4" y="314.9" width="30.9" height="85.2" fill="#7A0A98" stroke="#000000" stroke-width="3.5"/>
<line x1="841.4" y1="353.5" x2="872.3" y2="353.5" stroke="#000000" stroke-width="3.5" stroke-linecap="butt"/>
<line x1="907.8" y1="174.6" x2="907.8" y2="423.7" stroke="#000000" stroke-width="3.5" stroke-linecap="butt"/>
<line x1="899.4" y1="174.6" x2="916.2" y2="174.6" stroke="#000000" stroke-width="3.5" stroke-linecap="butt"/>
<line x1="899.4" y1="423.7" x2="916.2" y2="423.7" stroke="#000000" stroke-width="3.5" stroke-linecap="butt"/>
<rect x="892.4" y="280" width="30.8" height="92" fill="#FFFFFF" stroke="#000000" stroke-width="3.5"/>
<line x1="892.4" y1="322" x2="923.2" y2="322" stroke="#000000" stroke-width="3.5" stroke-linecap="butt"/>
<line x1="771.8" y1="158.3" x2="771.8" y2="509" stroke="#000000" stroke-width="3.6" stroke-linecap="butt"/>
<line x1="756.1" y1="507" x2="943.9" y2="507" stroke="#000000" stroke-width="4" stroke-linecap="butt"/>
<line x1="756.1" y1="160.3" x2="771.8" y2="160.3" stroke="#000000" stroke-width="4" stroke-linecap="butt"/>
<text transform="translate(752.2 170.8) scale(1 1.020)" font-size="30" text-anchor="end" stroke="#000" stroke-width="0.45" stroke-linejoin="round">8</text>
<line x1="756.1" y1="246.9" x2="771.8" y2="246.9" stroke="#000000" stroke-width="4" stroke-linecap="butt"/>
<text transform="translate(752.2 257.4) scale(1 1.020)" font-size="30" text-anchor="end" stroke="#000" stroke-width="0.45" stroke-linejoin="round">6</text>
<line x1="756.1" y1="333.6" x2="771.8" y2="333.6" stroke="#000000" stroke-width="4" stroke-linecap="butt"/>
<text transform="translate(752.2 344.1) scale(1 1.020)" font-size="30" text-anchor="end" stroke="#000" stroke-width="0.45" stroke-linejoin="round">4</text>
<line x1="756.1" y1="420.3" x2="771.8" y2="420.3" stroke="#000000" stroke-width="4" stroke-linecap="butt"/>
<text transform="translate(752.2 430.8) scale(1 1.020)" font-size="30" text-anchor="end" stroke="#000" stroke-width="0.45" stroke-linejoin="round">2</text>
<text transform="translate(752.2 517.5) scale(1 1.020)" font-size="30" text-anchor="end" stroke="#000" stroke-width="0.45" stroke-linejoin="round">0</text>
<line x1="805.7" y1="507" x2="805.7" y2="523" stroke="#000000" stroke-width="3.6" stroke-linecap="butt"/>
<line x1="856.9" y1="507" x2="856.9" y2="523" stroke="#000000" stroke-width="3.6" stroke-linecap="butt"/>
<line x1="908" y1="507" x2="908" y2="523" stroke="#000000" stroke-width="3.6" stroke-linecap="butt"/>
<text transform="translate(688 332) rotate(-90) scale(1 1.020)" font-size="29" text-anchor="middle" stroke="#000" stroke-width="0.45" stroke-linejoin="round">Brain Fungal Burden</text>
<text transform="translate(721.8 332) rotate(-90) scale(1 1.020)" font-size="29" text-anchor="middle" stroke="#000" stroke-width="0.45" stroke-linejoin="round">(Log10 CFU/g)</text>
<circle cx="805.7" cy="273.2" r="5" fill="#FF6600" stroke="#000000" stroke-width="3.5"/>
<circle cx="805.7" cy="291.4" r="5" fill="#FF6600" stroke="#000000" stroke-width="3.5"/>
<circle cx="809.4" cy="309.8" r="5" fill="#FF6600" stroke="#000000" stroke-width="3.5"/>
<circle cx="817.5" cy="308.4" r="5" fill="#FF6600" stroke="#000000" stroke-width="3.5"/>
<circle cx="801.7" cy="315.9" r="5" fill="#FF6600" stroke="#000000" stroke-width="3.5"/>
<circle cx="809.4" cy="330.9" r="5" fill="#FF6600" stroke="#000000" stroke-width="3.5"/>
<circle cx="801.7" cy="339" r="5" fill="#FF6600" stroke="#000000" stroke-width="3.5"/>
<circle cx="793.8" cy="358.2" r="5" fill="#FF6600" stroke="#000000" stroke-width="3.5"/>
<circle cx="809.4" cy="363.8" r="5" fill="#FF6600" stroke="#000000" stroke-width="3.5"/>
<circle cx="817.5" cy="360.4" r="5" fill="#FF6600" stroke="#000000" stroke-width="3.5"/>
<circle cx="801.7" cy="364.7" r="5" fill="#FF6600" stroke="#000000" stroke-width="3.5"/>
<circle cx="793.8" cy="376.7" r="5" fill="#FF6600" stroke="#000000" stroke-width="3.5"/>
<circle cx="809.4" cy="383.2" r="5" fill="#FF6600" stroke="#000000" stroke-width="3.5"/>
<circle cx="801.7" cy="384" r="5" fill="#FF6600" stroke="#000000" stroke-width="3.5"/>
<circle cx="805.7" cy="409.7" r="5" fill="#FF6600" stroke="#000000" stroke-width="3.5"/>
<circle cx="805.7" cy="423.2" r="5" fill="#FF6600" stroke="#000000" stroke-width="3.5"/>
<circle cx="855.7" cy="237.6" r="5" fill="#FFFFFF" stroke="#000000" stroke-width="3.5"/>
<circle cx="862.6" cy="234.7" r="5" fill="#FFFFFF" stroke="#000000" stroke-width="3.5"/>
<circle cx="862.6" cy="297.2" r="5" fill="#FFFFFF" stroke="#000000" stroke-width="3.5"/>
<circle cx="850.1" cy="306.3" r="5" fill="#FFFFFF" stroke="#000000" stroke-width="3.5"/>
<circle cx="856.7" cy="307.8" r="5" fill="#FFFFFF" stroke="#000000" stroke-width="3.5"/>
<circle cx="862.6" cy="315.9" r="5" fill="#FFFFFF" stroke="#000000" stroke-width="3.5"/>
<circle cx="850.7" cy="318.4" r="5" fill="#FFFFFF" stroke="#000000" stroke-width="3.5"/>
<circle cx="856.7" cy="320.9" r="5" fill="#FFFFFF" stroke="#000000" stroke-width="3.5"/>
<circle cx="862.6" cy="333.4" r="5" fill="#FFFFFF" stroke="#000000" stroke-width="3.5"/>
<circle cx="856.7" cy="339.8" r="5" fill="#FFFFFF" stroke="#000000" stroke-width="3.5"/>
<circle cx="853.2" cy="353.5" r="5" fill="#FFFFFF" stroke="#000000" stroke-width="3.5"/>
<circle cx="859.7" cy="353.5" r="5" fill="#FFFFFF" stroke="#000000" stroke-width="3.5"/>
<circle cx="856.3" cy="365.7" r="5" fill="#FFFFFF" stroke="#000000" stroke-width="3.5"/>
<circle cx="862.6" cy="365.9" r="5" fill="#FFFFFF" stroke="#000000" stroke-width="3.5"/>
<circle cx="856.7" cy="381.9" r="5" fill="#FFFFFF" stroke="#000000" stroke-width="3.5"/>
<circle cx="850.7" cy="373.8" r="5" fill="#FFFFFF" stroke="#000000" stroke-width="3.5"/>
<circle cx="862.6" cy="376.5" r="5" fill="#FFFFFF" stroke="#000000" stroke-width="3.5"/>
<circle cx="851.9" cy="464.1" r="5" fill="#FFFFFF" stroke="#000000" stroke-width="3.5"/>
<circle cx="856.9" cy="464.1" r="5" fill="#FFFFFF" stroke="#000000" stroke-width="3.5"/>
<circle cx="863.2" cy="464.1" r="5" fill="#FFFFFF" stroke="#000000" stroke-width="3.5"/>
<circle cx="845.1" cy="464.1" r="5" fill="#FFFFFF" stroke="#000000" stroke-width="3.5"/>
<circle cx="868.8" cy="464.1" r="5" fill="#FFFFFF" stroke="#000000" stroke-width="3.5"/>
<circle cx="908" cy="174.7" r="5" fill="#0F9D69" stroke="#000000" stroke-width="3.5"/>
<circle cx="908" cy="197.5" r="5" fill="#0F9D69" stroke="#000000" stroke-width="3.5"/>
<circle cx="908" cy="212.2" r="5" fill="#0F9D69" stroke="#000000" stroke-width="3.5"/>
<circle cx="896.3" cy="272.8" r="5" fill="#0F9D69" stroke="#000000" stroke-width="3.5"/>
<circle cx="912" cy="279.1" r="5" fill="#0F9D69" stroke="#000000" stroke-width="3.5"/>
<circle cx="904.2" cy="278.6" r="5" fill="#0F9D69" stroke="#000000" stroke-width="3.5"/>
<circle cx="920.1" cy="284.1" r="5" fill="#0F9D69" stroke="#000000" stroke-width="3.5"/>
<circle cx="896.3" cy="285.3" r="5" fill="#0F9D69" stroke="#000000" stroke-width="3.5"/>
<circle cx="911.7" cy="291.6" r="5" fill="#0F9D69" stroke="#000000" stroke-width="3.5"/>
<circle cx="908" cy="307.5" r="5" fill="#0F9D69" stroke="#000000" stroke-width="3.5"/>
<circle cx="903.8" cy="322.3" r="5" fill="#0F9D69" stroke="#000000" stroke-width="3.5"/>
<circle cx="912" cy="318.8" r="5" fill="#0F9D69" stroke="#000000" stroke-width="3.5"/>
<circle cx="896.3" cy="328.4" r="5" fill="#0F9D69" stroke="#000000" stroke-width="3.5"/>
<circle cx="920.1" cy="327.5" r="5" fill="#0F9D69" stroke="#000000" stroke-width="3.5"/>
<circle cx="912" cy="335.6" r="5" fill="#0F9D69" stroke="#000000" stroke-width="3.5"/>
<circle cx="904.1" cy="341.9" r="5" fill="#0F9D69" stroke="#000000" stroke-width="3.5"/>
<circle cx="908" cy="356.3" r="5" fill="#0F9D69" stroke="#000000" stroke-width="3.5"/>
<circle cx="900.1" cy="356.7" r="5" fill="#0F9D69" stroke="#000000" stroke-width="3.5"/>
<circle cx="915.7" cy="360.3" r="5" fill="#0F9D69" stroke="#000000" stroke-width="3.5"/>
<circle cx="912" cy="373.8" r="5" fill="#0F9D69" stroke="#000000" stroke-width="3.5"/>
<circle cx="904.1" cy="372.9" r="5" fill="#0F9D69" stroke="#000000" stroke-width="3.5"/>
<circle cx="920.1" cy="379.2" r="5" fill="#0F9D69" stroke="#000000" stroke-width="3.5"/>
<circle cx="912" cy="386.3" r="5" fill="#0F9D69" stroke="#000000" stroke-width="3.5"/>
<circle cx="904.1" cy="383.5" r="5" fill="#0F9D69" stroke="#000000" stroke-width="3.5"/>
<circle cx="908" cy="401.3" r="5" fill="#0F9D69" stroke="#000000" stroke-width="3.5"/>
<circle cx="912" cy="417.3" r="5" fill="#0F9D69" stroke="#000000" stroke-width="3.5"/>
<circle cx="903.8" cy="423.4" r="5" fill="#0F9D69" stroke="#000000" stroke-width="3.5"/>
<path d="M856.9 213.8V133.1H907.9V153.8" fill="none" stroke="#000000" stroke-width="3.6" stroke-linejoin="miter" stroke-linecap="butt"/>
<text transform="translate(881.9 127.9) scale(1 1.001)" font-size="20.8" text-anchor="middle" font-weight="bold" style="font-family:'DejaVu Sans', 'Liberation Sans', sans-serif" stroke="#000" stroke-width="0.7" stroke-linejoin="round">*</text>
<text transform="translate(773.7 549.6) scale(1 1.020)" font-size="28.7" text-anchor="end" stroke="#000" stroke-width="0.45" stroke-linejoin="round">NRK1Flox</text>
<text transform="translate(775.4 583.7) scale(1 1.020)" font-size="28.7" text-anchor="end" stroke="#000" stroke-width="0.45" stroke-linejoin="round">CD4Cre</text>
<text transform="translate(807.8 551.5) scale(1 1.001)" font-size="31.86" text-anchor="middle">–</text>
<text transform="translate(856.4 552.4) scale(1 1.001)" font-size="26.99" text-anchor="middle" stroke="#000" stroke-width="0.9" stroke-linejoin="round">+</text>
<text transform="translate(908 552.4) scale(1 1.001)" font-size="26.99" text-anchor="middle" stroke="#000" stroke-width="0.9" stroke-linejoin="round">+</text>
<text transform="translate(806.2 584.5) scale(1 1.001)" font-size="26.99" text-anchor="middle" stroke="#000" stroke-width="0.9" stroke-linejoin="round">+</text>
<text transform="translate(857.5 583.6) scale(1 1.001)" font-size="31.86" text-anchor="middle">–</text>
<text transform="translate(907 584.5) scale(1 1.001)" font-size="26.99" text-anchor="middle" stroke="#000" stroke-width="0.9" stroke-linejoin="round">+</text>
<text transform="translate(617.5 657.8) scale(1 1.015)" font-size="52.4" stroke="#000" stroke-width="0.45" stroke-linejoin="round">D</text>
<line x1="813.4" y1="713.1" x2="813.4" y2="984" stroke="#000000" stroke-width="3.5" stroke-linecap="butt"/>
<line x1="805" y1="713.1" x2="821.8" y2="713.1" stroke="#000000" stroke-width="3.5" stroke-linecap="butt"/>
<line x1="805" y1="984" x2="821.8" y2="984" stroke="#000000" stroke-width="3.5" stroke-linecap="butt"/>
<rect x="797.2" y="756.2" width="32.3" height="138" fill="#FFFFFF" stroke="#000000" stroke-width="3.5"/>
<line x1="797.2" y1="838" x2="829.5" y2="838" stroke="#000000" stroke-width="3.5" stroke-linecap="butt"/>
<line x1="867.1" y1="695" x2="867.1" y2="984" stroke="#000000" stroke-width="3.5" stroke-linecap="butt"/>
<line x1="858.8" y1="695" x2="875.5" y2="695" stroke="#000000" stroke-width="3.5" stroke-linecap="butt"/>
<line x1="858.8" y1="984" x2="875.5" y2="984" stroke="#000000" stroke-width="3.5" stroke-linecap="butt"/>
<rect x="850.8" y="751.2" width="32.7" height="145.1" fill="#7A0A98" stroke="#000000" stroke-width="3.5"/>
<line x1="850.8" y1="853.1" x2="883.5" y2="853.1" stroke="#000000" stroke-width="3.5" stroke-linecap="butt"/>
<line x1="921.3" y1="711.9" x2="921.3" y2="948.5" stroke="#000000" stroke-width="3.5" stroke-linecap="butt"/>
<line x1="912.9" y1="711.9" x2="929.7" y2="711.9" stroke="#000000" stroke-width="3.5" stroke-linecap="butt"/>
<line x1="912.9" y1="948.5" x2="929.7" y2="948.5" stroke="#000000" stroke-width="3.5" stroke-linecap="butt"/>
<rect x="905.2" y="761.2" width="32.2" height="117.9" fill="#FFFFFF" stroke="#000000" stroke-width="3.5"/>
<line x1="905.2" y1="848.3" x2="937.4" y2="848.3" stroke="#000000" stroke-width="3.5" stroke-linecap="butt"/>
<line x1="777.6" y1="652.4" x2="777.6" y2="1022.4" stroke="#000000" stroke-width="3.6" stroke-linecap="butt"/>
<line x1="761.9" y1="1020.4" x2="959.7" y2="1020.4" stroke="#000000" stroke-width="4" stroke-linecap="butt"/>
<line x1="761.9" y1="654.4" x2="777.6" y2="654.4" stroke="#000000" stroke-width="4" stroke-linecap="butt"/>
<text transform="translate(758 664.9) scale(1 1.020)" font-size="30" text-anchor="end" stroke="#000" stroke-width="0.45" stroke-linejoin="round">10</text>
<line x1="761.9" y1="727.5" x2="777.6" y2="727.5" stroke="#000000" stroke-width="4" stroke-linecap="butt"/>
<text transform="translate(758 738) scale(1 1.020)" font-size="30" text-anchor="end" stroke="#000" stroke-width="0.45" stroke-linejoin="round">8</text>
<line x1="761.9" y1="800.9" x2="777.6" y2="800.9" stroke="#000000" stroke-width="4" stroke-linecap="butt"/>
<text transform="translate(758 811.4) scale(1 1.020)" font-size="30" text-anchor="end" stroke="#000" stroke-width="0.45" stroke-linejoin="round">6</text>
<line x1="761.9" y1="874.4" x2="777.6" y2="874.4" stroke="#000000" stroke-width="4" stroke-linecap="butt"/>
<text transform="translate(758 884.9) scale(1 1.020)" font-size="30" text-anchor="end" stroke="#000" stroke-width="0.45" stroke-linejoin="round">4</text>
<line x1="761.9" y1="947.2" x2="777.6" y2="947.2" stroke="#000000" stroke-width="4" stroke-linecap="butt"/>
<text transform="translate(758 957.7) scale(1 1.020)" font-size="30" text-anchor="end" stroke="#000" stroke-width="0.45" stroke-linejoin="round">2</text>
<text transform="translate(758 1030.9) scale(1 1.020)" font-size="30" text-anchor="end" stroke="#000" stroke-width="0.45" stroke-linejoin="round">0</text>
<line x1="813.2" y1="1020.4" x2="813.2" y2="1036.4" stroke="#000000" stroke-width="3.6" stroke-linecap="butt"/>
<line x1="866.9" y1="1020.4" x2="866.9" y2="1036.4" stroke="#000000" stroke-width="3.6" stroke-linecap="butt"/>
<line x1="921" y1="1020.4" x2="921" y2="1036.4" stroke="#000000" stroke-width="3.6" stroke-linecap="butt"/>
<text transform="translate(671.2 836.5) rotate(-90) scale(1 1.020)" font-size="30" text-anchor="middle" stroke="#000" stroke-width="0.45" stroke-linejoin="round">Lung Fungal Burden</text>
<text transform="translate(706 836.5) rotate(-90) scale(1 1.020)" font-size="30" text-anchor="middle" stroke="#000" stroke-width="0.45" stroke-linejoin="round">(Log10 CFU/g)</text>
<circle cx="813.4" cy="713.2" r="5" fill="#FF6600" stroke="#000000" stroke-width="3.5"/>
<circle cx="800.9" cy="748.6" r="5" fill="#FF6600" stroke="#000000" stroke-width="3.5"/>
<circle cx="826" cy="748.6" r="5" fill="#FF6600" stroke="#000000" stroke-width="3.5"/>
<circle cx="817.5" cy="754.8" r="5" fill="#FF6600" stroke="#000000" stroke-width="3.5"/>
<circle cx="809.2" cy="756.9" r="5" fill="#FF6600" stroke="#000000" stroke-width="3.5"/>
<circle cx="809.2" cy="823.5" r="5" fill="#FF6600" stroke="#000000" stroke-width="3.5"/>
<circle cx="817.5" cy="829.8" r="5" fill="#FF6600" stroke="#000000" stroke-width="3.5"/>
<circle cx="809.2" cy="838.1" r="5" fill="#FF6600" stroke="#000000" stroke-width="3.5"/>
<circle cx="813.4" cy="858.5" r="5" fill="#FF6600" stroke="#000000" stroke-width="3.5"/>
<circle cx="817.5" cy="871.7" r="5" fill="#FF6600" stroke="#000000" stroke-width="3.5"/>
<circle cx="809.2" cy="878.5" r="5" fill="#FF6600" stroke="#000000" stroke-width="3.5"/>
<circle cx="809.2" cy="896.9" r="5" fill="#FF6600" stroke="#000000" stroke-width="3.5"/>
<circle cx="817.5" cy="896.3" r="5" fill="#FF6600" stroke="#000000" stroke-width="3.5"/>
<circle cx="809.2" cy="984.1" r="5" fill="#FF6600" stroke="#000000" stroke-width="3.5"/>
<circle cx="817.5" cy="984.1" r="5" fill="#FF6600" stroke="#000000" stroke-width="3.5"/>
<circle cx="854.8" cy="695.4" r="5" fill="#FFFFFF" stroke="#000000" stroke-width="3.5"/>
<circle cx="880.1" cy="701.5" r="5" fill="#FFFFFF" stroke="#000000" stroke-width="3.5"/>
<circle cx="867.3" cy="706.3" r="5" fill="#FFFFFF" stroke="#000000" stroke-width="3.5"/>
<circle cx="867.3" cy="734.4" r="5" fill="#FFFFFF" stroke="#000000" stroke-width="3.5"/>
<circle cx="854.8" cy="750.3" r="5" fill="#FFFFFF" stroke="#000000" stroke-width="3.5"/>
<circle cx="880.1" cy="749.1" r="5" fill="#FFFFFF" stroke="#000000" stroke-width="3.5"/>
<circle cx="867.3" cy="758.2" r="5" fill="#FFFFFF" stroke="#000000" stroke-width="3.5"/>
<circle cx="880.1" cy="783.2" r="5" fill="#FFFFFF" stroke="#000000" stroke-width="3.5"/>
<circle cx="867.3" cy="790.5" r="5" fill="#FFFFFF" stroke="#000000" stroke-width="3.5"/>
<circle cx="854.8" cy="850.4" r="5" fill="#FFFFFF" stroke="#000000" stroke-width="3.5"/>
<circle cx="867.3" cy="859.1" r="5" fill="#FFFFFF" stroke="#000000" stroke-width="3.5"/>
<circle cx="880.1" cy="863.2" r="5" fill="#FFFFFF" stroke="#000000" stroke-width="3.5"/>
<circle cx="867.3" cy="873.5" r="5" fill="#FFFFFF" stroke="#000000" stroke-width="3.5"/>
<circle cx="867.3" cy="890.4" r="5" fill="#FFFFFF" stroke="#000000" stroke-width="3.5"/>
<circle cx="880.1" cy="890.9" r="5" fill="#FFFFFF" stroke="#000000" stroke-width="3.5"/>
<circle cx="854.8" cy="901.7" r="5" fill="#FFFFFF" stroke="#000000" stroke-width="3.5"/>
<circle cx="880.1" cy="902.2" r="5" fill="#FFFFFF" stroke="#000000" stroke-width="3.5"/>
<circle cx="867.3" cy="907.6" r="5" fill="#FFFFFF" stroke="#000000" stroke-width="3.5"/>
<circle cx="861.1" cy="984.1" r="5" fill="#FFFFFF" stroke="#000000" stroke-width="3.5"/>
<circle cx="873.6" cy="984.1" r="5" fill="#FFFFFF" stroke="#000000" stroke-width="3.5"/>
<circle cx="913.8" cy="712.5" r="5" fill="#0F9D69" stroke="#000000" stroke-width="3.5"/>
<circle cx="928.9" cy="712.3" r="5" fill="#0F9D69" stroke="#000000" stroke-width="3.5"/>
<circle cx="921.4" cy="711.5" r="5" fill="#0F9D69" stroke="#000000" stroke-width="3.5"/>
<circle cx="921.4" cy="723.2" r="5" fill="#0F9D69" stroke="#000000" stroke-width="3.5"/>
<circle cx="921.4" cy="739.8" r="5" fill="#0F9D69" stroke="#000000" stroke-width="3.5"/>
<circle cx="921.4" cy="751.1" r="5" fill="#0F9D69" stroke="#000000" stroke-width="3.5"/>
<circle cx="928.5" cy="759.1" r="5" fill="#0F9D69" stroke="#000000" stroke-width="3.5"/>
<circle cx="921.4" cy="763.8" r="5" fill="#0F9D69" stroke="#000000" stroke-width="3.5"/>
<circle cx="915.1" cy="758.8" r="5" fill="#0F9D69" stroke="#000000" stroke-width="3.5"/>
<circle cx="921.4" cy="815.7" r="5" fill="#0F9D69" stroke="#000000" stroke-width="3.5"/>
<circle cx="927.6" cy="822.8" r="5" fill="#0F9D69" stroke="#000000" stroke-width="3.5"/>
<circle cx="921.4" cy="833.1" r="5" fill="#0F9D69" stroke="#000000" stroke-width="3.5"/>
<circle cx="927.6" cy="838.4" r="5" fill="#0F9D69" stroke="#000000" stroke-width="3.5"/>
<circle cx="921.4" cy="848.5" r="5" fill="#0F9D69" stroke="#000000" stroke-width="3.5"/>
<circle cx="934.2" cy="851.3" r="5" fill="#0F9D69" stroke="#000000" stroke-width="3.5"/>
<circle cx="915.1" cy="863.8" r="5" fill="#0F9D69" stroke="#000000" stroke-width="3.5"/>
<circle cx="927.6" cy="861.5" r="5" fill="#0F9D69" stroke="#000000" stroke-width="3.5"/>
<circle cx="909.1" cy="868.8" r="5" fill="#0F9D69" stroke="#000000" stroke-width="3.5"/>
<circle cx="934.2" cy="869.7" r="5" fill="#0F9D69" stroke="#000000" stroke-width="3.5"/>
<circle cx="921.4" cy="881.3" r="5" fill="#0F9D69" stroke="#000000" stroke-width="3.5"/>
<circle cx="922.6" cy="896.3" r="5" fill="#0F9D69" stroke="#000000" stroke-width="3.5"/>
<circle cx="915.1" cy="893.4" r="5" fill="#0F9D69" stroke="#000000" stroke-width="3.5"/>
<circle cx="915.1" cy="906.9" r="5" fill="#0F9D69" stroke="#000000" stroke-width="3.5"/>
<circle cx="927.6" cy="912.3" r="5" fill="#0F9D69" stroke="#000000" stroke-width="3.5"/>
<circle cx="921.4" cy="931.1" r="5" fill="#0F9D69" stroke="#000000" stroke-width="3.5"/>
<circle cx="921.4" cy="948.6" r="5" fill="#0F9D69" stroke="#000000" stroke-width="3.5"/>
<text transform="translate(779.2 1064.8) scale(1 1.020)" font-size="30" text-anchor="end" stroke="#000" stroke-width="0.45" stroke-linejoin="round">NRK1Flox</text>
<text transform="translate(780.2 1099.7) scale(1 1.020)" font-size="30" text-anchor="end" stroke="#000" stroke-width="0.45" stroke-linejoin="round">CD4Cre</text>
<text transform="translate(814.9 1067.3) scale(1 1.001)" font-size="32.4" text-anchor="middle">–</text>
<text transform="translate(866.5 1068.2) scale(1 1.001)" font-size="27.45" text-anchor="middle" stroke="#000" stroke-width="0.9" stroke-linejoin="round">+</text>
<text transform="translate(920.8 1068.2) scale(1 1.001)" font-size="27.45" text-anchor="middle" stroke="#000" stroke-width="0.9" stroke-linejoin="round">+</text>
<text transform="translate(813.6 1100.5) scale(1 1.001)" font-size="27.45" text-anchor="middle" stroke="#000" stroke-width="0.9" stroke-linejoin="round">+</text>
<text transform="translate(867.5 1099.6) scale(1 1.001)" font-size="32.4" text-anchor="middle">–</text>
<text transform="translate(920.2 1100.5) scale(1 1.001)" font-size="27.45" text-anchor="middle" stroke="#000" stroke-width="0.9" stroke-linejoin="round">+</text>
<circle cx="1050" cy="14.3" r="10.3" fill="#FFFFFF" stroke="#000000" stroke-width="6.2"/>
<text transform="translate(1109.3 26.3) scale(1 1.020)" font-size="36.8" stroke="#000" stroke-width="0.45" stroke-linejoin="round">NRK1Flox+/CD4Cre-</text>
<circle cx="1503.5" cy="19.3" r="10.3" fill="#0F9D69" stroke="#000000" stroke-width="6.2"/>
<text transform="translate(1564.9 32.5) scale(1 1.020)" font-size="38" stroke="#000" stroke-width="0.45" stroke-linejoin="round">NRK1Flox+/CD4Cre+</text>
<text transform="translate(1548.3 85) scale(1 1.020)" font-size="37" text-anchor="middle" stroke="#000" stroke-width="0.45" stroke-linejoin="round">medLN</text>
<text transform="translate(1107 110.6) scale(1 1.015)" font-size="52.4" stroke="#000" stroke-width="0.45" stroke-linejoin="round">F</text>
<rect x="1259" y="280" width="35.1" height="228.8" fill="#7A0A98" stroke="#000000" stroke-width="3.6"/>
<rect x="1318.3" y="342.7" width="34.8" height="166.1" fill="#FFFFFF" stroke="#000000" stroke-width="3.6"/>
<line x1="1237.4" y1="155.3" x2="1237.4" y2="510.8" stroke="#000000" stroke-width="3.6" stroke-linecap="butt"/>
<line x1="1222.5" y1="508.8" x2="1377.2" y2="508.8" stroke="#000000" stroke-width="4" stroke-linecap="butt"/>
<line x1="1222.5" y1="157.3" x2="1237.4" y2="157.3" stroke="#000000" stroke-width="4" stroke-linecap="butt"/>
<text transform="translate(1218.6 166.8) scale(1 1.020)" font-size="27" text-anchor="end" stroke="#000" stroke-width="0.45" stroke-linejoin="round">0.6</text>
<line x1="1222.5" y1="274.2" x2="1237.4" y2="274.2" stroke="#000000" stroke-width="4" stroke-linecap="butt"/>
<text transform="translate(1218.6 283.7) scale(1 1.020)" font-size="27" text-anchor="end" stroke="#000" stroke-width="0.45" stroke-linejoin="round">0.4</text>
<line x1="1222.5" y1="391.2" x2="1237.4" y2="391.2" stroke="#000000" stroke-width="4" stroke-linecap="butt"/>
<text transform="translate(1218.6 400.7) scale(1 1.020)" font-size="27" text-anchor="end" stroke="#000" stroke-width="0.45" stroke-linejoin="round">0.2</text>
<text transform="translate(1218.6 518.3) scale(1 1.020)" font-size="27" text-anchor="end" stroke="#000" stroke-width="0.45" stroke-linejoin="round">0.0</text>
<line x1="1276.6" y1="508.8" x2="1276.6" y2="524" stroke="#000000" stroke-width="3.6" stroke-linecap="butt"/>
<line x1="1335.7" y1="508.8" x2="1335.7" y2="524" stroke="#000000" stroke-width="3.6" stroke-linecap="butt"/>
<text transform="translate(1165 495.4) rotate(-90) scale(1 1.020)" font-size="29.3" stroke="#000" stroke-width="0.45" stroke-linejoin="round">%IFNγ<tspan dy="-13" font-size="22.2">+</tspan><tspan dy="13">CD4</tspan><tspan dy="-13" font-size="22.2">+</tspan><tspan dy="13"> Donor/Host</tspan></text>
<circle cx="1276.6" cy="179.9" r="7" fill="#FFFFFF" stroke="#000000" stroke-width="3.6"/>
<circle cx="1270.9" cy="237.2" r="7" fill="#FFFFFF" stroke="#000000" stroke-width="3.6"/>
<circle cx="1283.2" cy="239.9" r="7" fill="#FFFFFF" stroke="#000000" stroke-width="3.6"/>
<circle cx="1276.6" cy="258.9" r="7" fill="#FFFFFF" stroke="#000000" stroke-width="3.6"/>
<circle cx="1263.9" cy="294.2" r="7" fill="#FFFFFF" stroke="#000000" stroke-width="3.6"/>
<circle cx="1289.2" cy="299.9" r="7" fill="#FFFFFF" stroke="#000000" stroke-width="3.6"/>
<circle cx="1276.6" cy="305.9" r="7" fill="#FFFFFF" stroke="#000000" stroke-width="3.6"/>
<circle cx="1276.6" cy="332.2" r="7" fill="#FFFFFF" stroke="#000000" stroke-width="3.6"/>
<circle cx="1276.6" cy="359.2" r="7" fill="#FFFFFF" stroke="#000000" stroke-width="3.6"/>
<circle cx="1335.9" cy="252.6" r="7" fill="#0F9D69" stroke="#000000" stroke-width="3.6"/>
<circle cx="1323.2" cy="323.2" r="7" fill="#0F9D69" stroke="#000000" stroke-width="3.6"/>
<circle cx="1335.9" cy="335.8" r="7" fill="#0F9D69" stroke="#000000" stroke-width="3.6"/>
<circle cx="1335.9" cy="372.5" r="7" fill="#0F9D69" stroke="#000000" stroke-width="3.6"/>
<circle cx="1348.2" cy="374.8" r="7" fill="#0F9D69" stroke="#000000" stroke-width="3.6"/>
<circle cx="1323.2" cy="381.5" r="7" fill="#0F9D69" stroke="#000000" stroke-width="3.6"/>
<path d="M1276.6 158.3V137.6H1335.9V231.6" fill="none" stroke="#000000" stroke-width="3.7" stroke-linejoin="miter" stroke-linecap="butt"/>
<text transform="translate(1306.9 131) scale(1 1.001)" font-size="31.5" text-anchor="middle" font-weight="bold" style="font-family:'DejaVu Sans', 'Liberation Sans', sans-serif" stroke="#000" stroke-width="1" stroke-linejoin="round">*</text>
<text transform="translate(1239.3 551.8) scale(1 1.020)" font-size="29.3" text-anchor="end" stroke="#000" stroke-width="0.45" stroke-linejoin="round">NRK1Flox</text>
<text transform="translate(1240.6 586.4) scale(1 1.020)" font-size="29.3" text-anchor="end" stroke="#000" stroke-width="0.45" stroke-linejoin="round">CD4Cre</text>
<text transform="translate(1277.2 552.7) scale(1 1.001)" font-size="26.81" text-anchor="middle" stroke="#000" stroke-width="0.9" stroke-linejoin="round">+</text>
<text transform="translate(1334.9 552.7) scale(1 1.001)" font-size="26.81" text-anchor="middle" stroke="#000" stroke-width="0.9" stroke-linejoin="round">+</text>
<text transform="translate(1278.2 584.1) scale(1 1.001)" font-size="31.64" text-anchor="middle">–</text>
<text transform="translate(1334.2 585) scale(1 1.001)" font-size="26.81" text-anchor="middle" stroke="#000" stroke-width="0.9" stroke-linejoin="round">+</text>
<rect x="1514.9" y="295" width="35.7" height="215.8" fill="#7A0A98" stroke="#000000" stroke-width="3.6"/>
<rect x="1574.9" y="360.6" width="35.4" height="150.2" fill="#FFFFFF" stroke="#000000" stroke-width="3.6"/>
<line x1="1492.9" y1="150.6" x2="1492.9" y2="512.8" stroke="#000000" stroke-width="3.6" stroke-linecap="butt"/>
<line x1="1477.7" y1="510.8" x2="1634.7" y2="510.8" stroke="#000000" stroke-width="4" stroke-linecap="butt"/>
<line x1="1477.7" y1="152.6" x2="1492.9" y2="152.6" stroke="#000000" stroke-width="4" stroke-linecap="butt"/>
<text transform="translate(1473.8 162.1) scale(1 1.020)" font-size="27" text-anchor="end" stroke="#000" stroke-width="0.45" stroke-linejoin="round">1.0</text>
<line x1="1477.7" y1="224.2" x2="1492.9" y2="224.2" stroke="#000000" stroke-width="4" stroke-linecap="butt"/>
<text transform="translate(1473.8 233.7) scale(1 1.020)" font-size="27" text-anchor="end" stroke="#000" stroke-width="0.45" stroke-linejoin="round">0.8</text>
<line x1="1477.7" y1="295.9" x2="1492.9" y2="295.9" stroke="#000000" stroke-width="4" stroke-linecap="butt"/>
<text transform="translate(1473.8 305.4) scale(1 1.020)" font-size="27" text-anchor="end" stroke="#000" stroke-width="0.45" stroke-linejoin="round">0.6</text>
<line x1="1477.7" y1="367.5" x2="1492.9" y2="367.5" stroke="#000000" stroke-width="4" stroke-linecap="butt"/>
<text transform="translate(1473.8 377) scale(1 1.020)" font-size="27" text-anchor="end" stroke="#000" stroke-width="0.45" stroke-linejoin="round">0.4</text>
<line x1="1477.7" y1="439.2" x2="1492.9" y2="439.2" stroke="#000000" stroke-width="4" stroke-linecap="butt"/>
<text transform="translate(1473.8 448.7) scale(1 1.020)" font-size="27" text-anchor="end" stroke="#000" stroke-width="0.45" stroke-linejoin="round">0.2</text>
<text transform="translate(1473.8 520.3) scale(1 1.020)" font-size="27" text-anchor="end" stroke="#000" stroke-width="0.45" stroke-linejoin="round">0.0</text>
<line x1="1532.1" y1="510.8" x2="1532.1" y2="526.8" stroke="#000000" stroke-width="3.6" stroke-linecap="butt"/>
<line x1="1592.4" y1="510.8" x2="1592.4" y2="526.8" stroke="#000000" stroke-width="3.6" stroke-linecap="butt"/>
<text transform="translate(1418 492.6) rotate(-90) scale(1 1.020)" font-size="29.85" stroke="#000" stroke-width="0.45" stroke-linejoin="round">%IL-2<tspan dy="-13" font-size="22.2">+</tspan><tspan dy="13">CD4</tspan><tspan dy="-13" font-size="22.2">+</tspan><tspan dy="13"> Donor/Host</tspan></text>
<circle cx="1532.4" cy="174.9" r="7" fill="#FFFFFF" stroke="#000000" stroke-width="3.6"/>
<circle cx="1525.8" cy="257.2" r="7" fill="#FFFFFF" stroke="#000000" stroke-width="3.6"/>
<circle cx="1538.8" cy="254.9" r="7" fill="#FFFFFF" stroke="#000000" stroke-width="3.6"/>
<circle cx="1532.4" cy="280.5" r="7" fill="#FFFFFF" stroke="#000000" stroke-width="3.6"/>
<circle cx="1519.8" cy="325.9" r="7" fill="#FFFFFF" stroke="#000000" stroke-width="3.6"/>
<circle cx="1545.4" cy="325.9" r="7" fill="#FFFFFF" stroke="#000000" stroke-width="3.6"/>
<circle cx="1532.4" cy="320.9" r="7" fill="#FFFFFF" stroke="#000000" stroke-width="3.6"/>
<circle cx="1525.8" cy="348.2" r="7" fill="#FFFFFF" stroke="#000000" stroke-width="3.6"/>
<circle cx="1538.8" cy="347.2" r="7" fill="#FFFFFF" stroke="#000000" stroke-width="3.6"/>
<circle cx="1592.4" cy="277.2" r="7" fill="#0F9D69" stroke="#000000" stroke-width="3.6"/>
<circle cx="1592.4" cy="327.2" r="7" fill="#0F9D69" stroke="#000000" stroke-width="3.6"/>
<circle cx="1598.1" cy="387.2" r="7" fill="#0F9D69" stroke="#000000" stroke-width="3.6"/>
<circle cx="1579.7" cy="389.8" r="7" fill="#0F9D69" stroke="#000000" stroke-width="3.6"/>
<circle cx="1588.1" cy="384.2" r="7" fill="#0F9D69" stroke="#000000" stroke-width="3.6"/>
<circle cx="1605.7" cy="385.8" r="7" fill="#0F9D69" stroke="#000000" stroke-width="3.6"/>
<path d="M1532.1 154.3V132.8H1592.4V256.4" fill="none" stroke="#000000" stroke-width="3.6" stroke-linejoin="miter" stroke-linecap="butt"/>
<text transform="translate(1563.8 125.3) scale(1 1.001)" font-size="31.5" text-anchor="middle" font-weight="bold" style="font-family:'DejaVu Sans', 'Liberation Sans', sans-serif" stroke="#000" stroke-width="1" stroke-linejoin="round">*</text>
<text transform="translate(1533.1 556.7) scale(1 1.001)" font-size="26.81" text-anchor="middle" stroke="#000" stroke-width="0.9" stroke-linejoin="round">+</text>
<text transform="translate(1591.4 556.7) scale(1 1.001)" font-size="26.81" text-anchor="middle" stroke="#000" stroke-width="0.9" stroke-linejoin="round">+</text>
<text transform="translate(1534.1 587.4) scale(1 1.001)" font-size="31.64" text-anchor="middle">–</text>
<text transform="translate(1591.4 588.3) scale(1 1.001)" font-size="26.81" text-anchor="middle" stroke="#000" stroke-width="0.9" stroke-linejoin="round">+</text>
<rect x="1783.2" y="275" width="36.7" height="229.8" fill="#7A0A98" stroke="#000000" stroke-width="3.6"/>
<rect x="1843.5" y="299.3" width="36.4" height="205.5" fill="#FFFFFF" stroke="#000000" stroke-width="3.6"/>
<line x1="1761.9" y1="144.6" x2="1761.9" y2="506.8" stroke="#000000" stroke-width="3.6" stroke-linecap="butt"/>
<line x1="1746.7" y1="504.8" x2="1904" y2="504.8" stroke="#000000" stroke-width="4" stroke-linecap="butt"/>
<line x1="1746.7" y1="146.6" x2="1761.9" y2="146.6" stroke="#000000" stroke-width="4" stroke-linecap="butt"/>
<text transform="translate(1742.8 156.1) scale(1 1.020)" font-size="27" text-anchor="end" stroke="#000" stroke-width="0.45" stroke-linejoin="round">0.5</text>
<line x1="1746.7" y1="218.2" x2="1761.9" y2="218.2" stroke="#000000" stroke-width="4" stroke-linecap="butt"/>
<text transform="translate(1742.8 227.7) scale(1 1.020)" font-size="27" text-anchor="end" stroke="#000" stroke-width="0.45" stroke-linejoin="round">0.4</text>
<line x1="1746.7" y1="289.9" x2="1761.9" y2="289.9" stroke="#000000" stroke-width="4" stroke-linecap="butt"/>
<text transform="translate(1742.8 299.4) scale(1 1.020)" font-size="27" text-anchor="end" stroke="#000" stroke-width="0.45" stroke-linejoin="round">0.3</text>
<line x1="1746.7" y1="361.5" x2="1761.9" y2="361.5" stroke="#000000" stroke-width="4" stroke-linecap="butt"/>
<text transform="translate(1742.8 371) scale(1 1.020)" font-size="27" text-anchor="end" stroke="#000" stroke-width="0.45" stroke-linejoin="round">0.2</text>
<line x1="1746.7" y1="433.2" x2="1761.9" y2="433.2" stroke="#000000" stroke-width="4" stroke-linecap="butt"/>
<text transform="translate(1742.8 442.7) scale(1 1.020)" font-size="27" text-anchor="end" stroke="#000" stroke-width="0.45" stroke-linejoin="round">0.1</text>
<text transform="translate(1742.8 514.3) scale(1 1.020)" font-size="27" text-anchor="end" stroke="#000" stroke-width="0.45" stroke-linejoin="round">0.0</text>
<line x1="1801.4" y1="504.8" x2="1801.4" y2="520.8" stroke="#000000" stroke-width="3.6" stroke-linecap="butt"/>
<line x1="1861.7" y1="504.8" x2="1861.7" y2="520.8" stroke="#000000" stroke-width="3.6" stroke-linecap="butt"/>
<text transform="translate(1686.3 503.1) rotate(-90) scale(1 1.020)" font-size="29.8" stroke="#000" stroke-width="0.45" stroke-linejoin="round">%TNFα+CD4+ Donor/Host</text>
<circle cx="1801.7" cy="194.9" r="7" fill="#FFFFFF" stroke="#000000" stroke-width="3.6"/>
<circle cx="1801.7" cy="215.9" r="7" fill="#FFFFFF" stroke="#000000" stroke-width="3.6"/>
<circle cx="1789.1" cy="240.6" r="7" fill="#FFFFFF" stroke="#000000" stroke-width="3.6"/>
<circle cx="1801.7" cy="247.2" r="7" fill="#FFFFFF" stroke="#000000" stroke-width="3.6"/>
<circle cx="1801.7" cy="293.9" r="7" fill="#FFFFFF" stroke="#000000" stroke-width="3.6"/>
<circle cx="1815.1" cy="302.2" r="7" fill="#FFFFFF" stroke="#000000" stroke-width="3.6"/>
<circle cx="1801.7" cy="307.5" r="7" fill="#FFFFFF" stroke="#000000" stroke-width="3.6"/>
<circle cx="1795.1" cy="332.5" r="7" fill="#FFFFFF" stroke="#000000" stroke-width="3.6"/>
<circle cx="1807.4" cy="328.9" r="7" fill="#FFFFFF" stroke="#000000" stroke-width="3.6"/>
<circle cx="1850.1" cy="252.6" r="7" fill="#0F9D69" stroke="#000000" stroke-width="3.6"/>
<circle cx="1874.7" cy="252.6" r="7" fill="#0F9D69" stroke="#000000" stroke-width="3.6"/>
<circle cx="1861.7" cy="297.2" r="7" fill="#0F9D69" stroke="#000000" stroke-width="3.6"/>
<circle cx="1849.1" cy="312.5" r="7" fill="#0F9D69" stroke="#000000" stroke-width="3.6"/>
<circle cx="1874.7" cy="314.2" r="7" fill="#0F9D69" stroke="#000000" stroke-width="3.6"/>
<circle cx="1861.7" cy="355.8" r="7" fill="#0F9D69" stroke="#000000" stroke-width="3.6"/>
<text transform="translate(1801.7 551) scale(1 1.001)" font-size="26.81" text-anchor="middle" stroke="#000" stroke-width="0.9" stroke-linejoin="round">+</text>
<text transform="translate(1860.7 551) scale(1 1.001)" font-size="26.81" text-anchor="middle" stroke="#000" stroke-width="0.9" stroke-linejoin="round">+</text>
<text transform="translate(1803.1 582.8) scale(1 1.001)" font-size="31.64" text-anchor="middle">–</text>
<text transform="translate(1860 583.6) scale(1 1.001)" font-size="26.81" text-anchor="middle" stroke="#000" stroke-width="0.9" stroke-linejoin="round">+</text>
<text transform="translate(1341.7 661.8) scale(1 1.015)" font-size="52.4" stroke="#000" stroke-width="0.45" stroke-linejoin="round">G</text>
<text transform="translate(1570 643.6) scale(1 1.020)" font-size="37" text-anchor="middle" stroke="#000" stroke-width="0.45" stroke-linejoin="round">Lung</text>
<rect x="1528.4" y="847.7" width="36.7" height="189.4" fill="#7A0A98" stroke="#000000" stroke-width="3.6"/>
<rect x="1589.3" y="811.7" width="36.4" height="225.4" fill="#FFFFFF" stroke="#000000" stroke-width="3.6"/>
<line x1="1505.8" y1="673" x2="1505.8" y2="1039.1" stroke="#000000" stroke-width="3.6" stroke-linecap="butt"/>
<line x1="1490.4" y1="1037.1" x2="1649.8" y2="1037.1" stroke="#000000" stroke-width="4" stroke-linecap="butt"/>
<line x1="1490.4" y1="675" x2="1505.8" y2="675" stroke="#000000" stroke-width="4" stroke-linecap="butt"/>
<text transform="translate(1486.5 684.5) scale(1 1.020)" font-size="27" text-anchor="end" stroke="#000" stroke-width="0.45" stroke-linejoin="round">1.2</text>
<line x1="1490.4" y1="795.7" x2="1505.8" y2="795.7" stroke="#000000" stroke-width="4" stroke-linecap="butt"/>
<text transform="translate(1486.5 805.2) scale(1 1.020)" font-size="27" text-anchor="end" stroke="#000" stroke-width="0.45" stroke-linejoin="round">1.1</text>
<line x1="1490.4" y1="916.4" x2="1505.8" y2="916.4" stroke="#000000" stroke-width="4" stroke-linecap="butt"/>
<text transform="translate(1486.5 925.9) scale(1 1.020)" font-size="27" text-anchor="end" stroke="#000" stroke-width="0.45" stroke-linejoin="round">1.0</text>
<text transform="translate(1486.5 1046.6) scale(1 1.020)" font-size="27" text-anchor="end" stroke="#000" stroke-width="0.45" stroke-linejoin="round">0.9</text>
<line x1="1546.5" y1="1037.1" x2="1546.5" y2="1053.1" stroke="#000000" stroke-width="3.6" stroke-linecap="butt"/>
<line x1="1606.8" y1="1037.1" x2="1606.8" y2="1053.1" stroke="#000000" stroke-width="3.6" stroke-linecap="butt"/>
<text transform="translate(1430.6 1013.1) rotate(-90) scale(1 1.020)" font-size="30" stroke="#000" stroke-width="0.45" stroke-linejoin="round">γH2AX MFI Donor/Host</text>
<circle cx="1546.5" cy="802.6" r="7" fill="#FFFFFF" stroke="#000000" stroke-width="3.6"/>
<circle cx="1533.5" cy="823.2" r="7" fill="#FFFFFF" stroke="#000000" stroke-width="3.6"/>
<circle cx="1559.9" cy="818.2" r="7" fill="#FFFFFF" stroke="#000000" stroke-width="3.6"/>
<circle cx="1546.5" cy="818.2" r="7" fill="#FFFFFF" stroke="#000000" stroke-width="3.6"/>
<circle cx="1546.5" cy="834.9" r="7" fill="#FFFFFF" stroke="#000000" stroke-width="3.6"/>
<circle cx="1546.5" cy="862.2" r="7" fill="#FFFFFF" stroke="#000000" stroke-width="3.6"/>
<circle cx="1546.5" cy="876.5" r="7" fill="#FFFFFF" stroke="#000000" stroke-width="3.6"/>
<circle cx="1533.5" cy="891.5" r="7" fill="#FFFFFF" stroke="#000000" stroke-width="3.6"/>
<circle cx="1559.9" cy="889.9" r="7" fill="#FFFFFF" stroke="#000000" stroke-width="3.6"/>
<circle cx="1594.2" cy="786.6" r="7" fill="#0F9D69" stroke="#000000" stroke-width="3.6"/>
<circle cx="1620.2" cy="784.9" r="7" fill="#0F9D69" stroke="#000000" stroke-width="3.6"/>
<circle cx="1606.8" cy="793.9" r="7" fill="#0F9D69" stroke="#000000" stroke-width="3.6"/>
<circle cx="1594.2" cy="834.9" r="7" fill="#0F9D69" stroke="#000000" stroke-width="3.6"/>
<circle cx="1620.2" cy="830.5" r="7" fill="#0F9D69" stroke="#000000" stroke-width="3.6"/>
<circle cx="1606.8" cy="827.5" r="7" fill="#0F9D69" stroke="#000000" stroke-width="3.6"/>
<path d="M1546.5 781.6V742.3H1607.5V763.3" fill="none" stroke="#000000" stroke-width="3.7" stroke-linejoin="miter" stroke-linecap="butt"/>
<text transform="translate(1578 734.3) scale(1 1.001)" font-size="31.5" text-anchor="middle" font-weight="bold" style="font-family:'DejaVu Sans', 'Liberation Sans', sans-serif" stroke="#000" stroke-width="1" stroke-linejoin="round">*</text>
<text transform="translate(1508.9 1081.4) scale(1 1.020)" font-size="29.3" text-anchor="end" stroke="#000" stroke-width="0.45" stroke-linejoin="round">NRK1Flox</text>
<text transform="translate(1509.9 1116.4) scale(1 1.020)" font-size="29.3" text-anchor="end" stroke="#000" stroke-width="0.45" stroke-linejoin="round">CD4Cre</text>
<text transform="translate(1546.9 1082.7) scale(1 1.001)" font-size="26.81" text-anchor="middle" stroke="#000" stroke-width="0.9" stroke-linejoin="round">+</text>
<text transform="translate(1606.5 1082.7) scale(1 1.001)" font-size="26.81" text-anchor="middle" stroke="#000" stroke-width="0.9" stroke-linejoin="round">+</text>
<text transform="translate(1547.5 1114.8) scale(1 1.001)" font-size="31.64" text-anchor="middle">–</text>
<text transform="translate(1605.8 1115.7) scale(1 1.001)" font-size="26.81" text-anchor="middle" stroke="#000" stroke-width="0.9" stroke-linejoin="round">+</text>
<text transform="translate(-3.8 1192.6) scale(1 1.015)" font-size="52.4" stroke="#000" stroke-width="0.45" stroke-linejoin="round">E</text>
<line x1="153.3" y1="1518.5" x2="398.8" y2="1403.2" stroke="#7A0A98" stroke-width="1.6" stroke-linecap="butt"/>
<circle cx="398.8" cy="1286.6" r="7" fill="#FFFFFF" stroke="#000000" stroke-width="2"/>
<circle cx="301.5" cy="1390.9" r="7" fill="#FFFFFF" stroke="#000000" stroke-width="2"/>
<circle cx="348.8" cy="1398.2" r="7" fill="#FFFFFF" stroke="#000000" stroke-width="2"/>
<circle cx="315.8" cy="1414.2" r="7" fill="#FFFFFF" stroke="#000000" stroke-width="2"/>
<circle cx="303.8" cy="1426.5" r="7" fill="#FFFFFF" stroke="#000000" stroke-width="2"/>
<circle cx="203.9" cy="1430.2" r="7" fill="#FFFFFF" stroke="#000000" stroke-width="2"/>
<circle cx="288.9" cy="1445.2" r="7" fill="#FFFFFF" stroke="#000000" stroke-width="2"/>
<circle cx="210.9" cy="1465.8" r="7" fill="#FFFFFF" stroke="#000000" stroke-width="2"/>
<circle cx="213.2" cy="1455.8" r="7" fill="#FFFFFF" stroke="#000000" stroke-width="2"/>
<circle cx="291.5" cy="1513.5" r="7" fill="#FFFFFF" stroke="#000000" stroke-width="2"/>
<circle cx="268.9" cy="1536.5" r="7" fill="#FFFFFF" stroke="#000000" stroke-width="2"/>
<circle cx="283.9" cy="1537.5" r="7" fill="#FFFFFF" stroke="#000000" stroke-width="2"/>
<circle cx="153.3" cy="1540.8" r="7" fill="#FFFFFF" stroke="#000000" stroke-width="2"/>
<circle cx="240.9" cy="1548.1" r="7" fill="#FFFFFF" stroke="#000000" stroke-width="2"/>
<circle cx="205.6" cy="1551.5" r="7" fill="#FFFFFF" stroke="#000000" stroke-width="2"/>
<circle cx="164.9" cy="1556.5" r="7" fill="#FFFFFF" stroke="#000000" stroke-width="2"/>
<circle cx="263.2" cy="1556.5" r="7" fill="#FFFFFF" stroke="#000000" stroke-width="2"/>
<line x1="94.4" y1="1227.3" x2="94.4" y2="1576.1" stroke="#000000" stroke-width="3.6" stroke-linecap="butt"/>
<line x1="79.9" y1="1574.1" x2="441.4" y2="1574.1" stroke="#000000" stroke-width="4" stroke-linecap="butt"/>
<line x1="79.9" y1="1229.3" x2="94.4" y2="1229.3" stroke="#000000" stroke-width="4" stroke-linecap="butt"/>
<text transform="translate(76 1239.8) scale(1 1.020)" font-size="30" text-anchor="end" stroke="#000" stroke-width="0.45" stroke-linejoin="round">60</text>
<line x1="79.9" y1="1343.2" x2="94.4" y2="1343.2" stroke="#000000" stroke-width="4" stroke-linecap="butt"/>
<text transform="translate(76 1353.7) scale(1 1.020)" font-size="30" text-anchor="end" stroke="#000" stroke-width="0.45" stroke-linejoin="round">40</text>
<line x1="79.9" y1="1458.5" x2="94.4" y2="1458.5" stroke="#000000" stroke-width="4" stroke-linecap="butt"/>
<text transform="translate(76 1469) scale(1 1.020)" font-size="30" text-anchor="end" stroke="#000" stroke-width="0.45" stroke-linejoin="round">20</text>
<text transform="translate(76 1584.6) scale(1 1.020)" font-size="30" text-anchor="end" stroke="#000" stroke-width="0.45" stroke-linejoin="round">0</text>
<line x1="94.3" y1="1574.1" x2="94.3" y2="1588.6" stroke="#000000" stroke-width="3.6" stroke-linecap="butt"/>
<line x1="151.6" y1="1574.1" x2="151.6" y2="1588.6" stroke="#000000" stroke-width="3.6" stroke-linecap="butt"/>
<line x1="208.9" y1="1574.1" x2="208.9" y2="1588.6" stroke="#000000" stroke-width="3.6" stroke-linecap="butt"/>
<line x1="266.5" y1="1574.1" x2="266.5" y2="1588.6" stroke="#000000" stroke-width="3.6" stroke-linecap="butt"/>
<line x1="324.8" y1="1574.1" x2="324.8" y2="1588.6" stroke="#000000" stroke-width="3.6" stroke-linecap="butt"/>
<line x1="382.5" y1="1574.1" x2="382.5" y2="1588.6" stroke="#000000" stroke-width="3.6" stroke-linecap="butt"/>
<line x1="439.8" y1="1574.1" x2="439.8" y2="1588.6" stroke="#000000" stroke-width="3.6" stroke-linecap="butt"/>
<text transform="translate(28.2 1492.5) rotate(-90) scale(1 1.020)" font-size="28.3" stroke="#000" stroke-width="0.45" stroke-linejoin="round">% IFN-γ<tspan dy="-12.5" font-size="21.5">+</tspan><tspan dy="12.5">CD4</tspan><tspan dy="-12.5" font-size="21.5">+</tspan></text>
<text transform="translate(122.3 1218.6) scale(1 1.020)" font-size="29.5" stroke="#000" stroke-width="0.45" stroke-linejoin="round">r = 0.725</text>
<text transform="translate(122.3 1254.3) scale(1 1.020)" font-size="29.5" stroke="#000" stroke-width="0.45" stroke-linejoin="round">p = 0.001</text>
<text transform="translate(100.8 1616.6) rotate(-45) scale(1 1.020)" font-size="27" text-anchor="end" stroke="#000" stroke-width="0.45" stroke-linejoin="round">10<tspan dx="1.2" dy="-11.6" font-size="16.74">1</tspan></text>
<text transform="translate(158.1 1616.6) rotate(-45) scale(1 1.020)" font-size="27" text-anchor="end" stroke="#000" stroke-width="0.45" stroke-linejoin="round">10<tspan dx="1.2" dy="-11.6" font-size="16.74">2</tspan></text>
<text transform="translate(215.4 1616.6) rotate(-45) scale(1 1.020)" font-size="27" text-anchor="end" stroke="#000" stroke-width="0.45" stroke-linejoin="round">10<tspan dx="1.2" dy="-11.6" font-size="16.74">3</tspan></text>
<text transform="translate(273 1616.6) rotate(-45) scale(1 1.020)" font-size="27" text-anchor="end" stroke="#000" stroke-width="0.45" stroke-linejoin="round">10<tspan dx="1.2" dy="-11.6" font-size="16.74">4</tspan></text>
<text transform="translate(331.3 1616.6) rotate(-45) scale(1 1.020)" font-size="27" text-anchor="end" stroke="#000" stroke-width="0.45" stroke-linejoin="round">10<tspan dx="1.2" dy="-11.6" font-size="16.74">5</tspan></text>
<text transform="translate(389 1616.6) rotate(-45) scale(1 1.020)" font-size="27" text-anchor="end" stroke="#000" stroke-width="0.45" stroke-linejoin="round">10<tspan dx="1.2" dy="-11.6" font-size="16.74">6</tspan></text>
<text transform="translate(446.3 1616.6) rotate(-45) scale(1 1.020)" font-size="27" text-anchor="end" stroke="#000" stroke-width="0.45" stroke-linejoin="round">10<tspan dx="1.2" dy="-11.6" font-size="16.74">7</tspan></text>
<text transform="translate(267.2 1702.6) scale(1 1.020)" font-size="33.4" stroke="#000" stroke-width="0.45" stroke-linejoin="round">Brain Fungal Burden (CFU/g)</text>
<line x1="595.6" y1="1488.5" x2="868.8" y2="1474.8" stroke="#0F9D69" stroke-width="1.6" stroke-linecap="butt"/>
<circle cx="630.6" cy="1356.6" r="7" fill="#0F9D69" stroke="#000000" stroke-width="2"/>
<circle cx="718.9" cy="1369.2" r="7" fill="#0F9D69" stroke="#000000" stroke-width="2"/>
<circle cx="627.2" cy="1376.5" r="7" fill="#0F9D69" stroke="#000000" stroke-width="2"/>
<circle cx="663.9" cy="1430.2" r="7" fill="#0F9D69" stroke="#000000" stroke-width="2"/>
<circle cx="744.8" cy="1444.2" r="7" fill="#0F9D69" stroke="#000000" stroke-width="2"/>
<circle cx="633.2" cy="1455.8" r="7" fill="#0F9D69" stroke="#000000" stroke-width="2"/>
<circle cx="743.2" cy="1467.5" r="7" fill="#0F9D69" stroke="#000000" stroke-width="2"/>
<circle cx="843.1" cy="1470.2" r="7" fill="#0F9D69" stroke="#000000" stroke-width="2"/>
<circle cx="605.9" cy="1475.8" r="7" fill="#0F9D69" stroke="#000000" stroke-width="2"/>
<circle cx="588.3" cy="1485.8" r="7" fill="#0F9D69" stroke="#000000" stroke-width="2"/>
<circle cx="659.2" cy="1487.5" r="7" fill="#0F9D69" stroke="#000000" stroke-width="2"/>
<circle cx="687.5" cy="1493.2" r="7" fill="#0F9D69" stroke="#000000" stroke-width="2"/>
<circle cx="679.9" cy="1498.2" r="7" fill="#0F9D69" stroke="#000000" stroke-width="2"/>
<circle cx="868.8" cy="1494.8" r="7" fill="#0F9D69" stroke="#000000" stroke-width="2"/>
<circle cx="750.8" cy="1499.1" r="7" fill="#0F9D69" stroke="#000000" stroke-width="2"/>
<circle cx="643.9" cy="1504.1" r="7" fill="#0F9D69" stroke="#000000" stroke-width="2"/>
<circle cx="594.9" cy="1515.8" r="7" fill="#0F9D69" stroke="#000000" stroke-width="2"/>
<circle cx="588.3" cy="1520.8" r="7" fill="#0F9D69" stroke="#000000" stroke-width="2"/>
<circle cx="758.2" cy="1523.1" r="7" fill="#0F9D69" stroke="#000000" stroke-width="2"/>
<circle cx="736.5" cy="1531.8" r="7" fill="#0F9D69" stroke="#000000" stroke-width="2"/>
<circle cx="695.5" cy="1545.1" r="7" fill="#0F9D69" stroke="#000000" stroke-width="2"/>
<circle cx="625.9" cy="1555.8" r="7" fill="#0F9D69" stroke="#000000" stroke-width="2"/>
<circle cx="616.6" cy="1558.5" r="7" fill="#0F9D69" stroke="#000000" stroke-width="2"/>
<circle cx="610.9" cy="1561.8" r="7" fill="#0F9D69" stroke="#000000" stroke-width="2"/>
<line x1="543.3" y1="1227.3" x2="543.3" y2="1573.8" stroke="#000000" stroke-width="3.6" stroke-linecap="butt"/>
<line x1="528.8" y1="1571.8" x2="885.8" y2="1571.8" stroke="#000000" stroke-width="4" stroke-linecap="butt"/>
<line x1="528.8" y1="1229.3" x2="543.3" y2="1229.3" stroke="#000000" stroke-width="4" stroke-linecap="butt"/>
<line x1="528.8" y1="1343.2" x2="543.3" y2="1343.2" stroke="#000000" stroke-width="4" stroke-linecap="butt"/>
<line x1="528.8" y1="1458.5" x2="543.3" y2="1458.5" stroke="#000000" stroke-width="4" stroke-linecap="butt"/>
<line x1="542.6" y1="1571.8" x2="542.6" y2="1586.3" stroke="#000000" stroke-width="3.6" stroke-linecap="butt"/>
<line x1="591.6" y1="1571.8" x2="591.6" y2="1586.3" stroke="#000000" stroke-width="3.6" stroke-linecap="butt"/>
<line x1="639.9" y1="1571.8" x2="639.9" y2="1586.3" stroke="#000000" stroke-width="3.6" stroke-linecap="butt"/>
<line x1="688.2" y1="1571.8" x2="688.2" y2="1586.3" stroke="#000000" stroke-width="3.6" stroke-linecap="butt"/>
<line x1="737.2" y1="1571.8" x2="737.2" y2="1586.3" stroke="#000000" stroke-width="3.6" stroke-linecap="butt"/>
<line x1="786.5" y1="1571.8" x2="786.5" y2="1586.3" stroke="#000000" stroke-width="3.6" stroke-linecap="butt"/>
<line x1="835.5" y1="1571.8" x2="835.5" y2="1586.3" stroke="#000000" stroke-width="3.6" stroke-linecap="butt"/>
<line x1="883.8" y1="1571.8" x2="883.8" y2="1586.3" stroke="#000000" stroke-width="3.6" stroke-linecap="butt"/>
<text transform="translate(526.2 1229.3) rotate(-90) scale(1 1.020)" font-size="30" text-anchor="middle" stroke="#000" stroke-width="0.45" stroke-linejoin="round">60</text>
<text transform="translate(526.2 1343.2) rotate(-90) scale(1 1.020)" font-size="30" text-anchor="middle" stroke="#000" stroke-width="0.45" stroke-linejoin="round">40</text>
<text transform="translate(526.2 1458.5) rotate(-90) scale(1 1.020)" font-size="30" text-anchor="middle" stroke="#000" stroke-width="0.45" stroke-linejoin="round">20</text>
<text transform="translate(526.2 1571.8) rotate(-90) scale(1 1.020)" font-size="30" text-anchor="middle" stroke="#000" stroke-width="0.45" stroke-linejoin="round">0</text>
<text transform="translate(590.6 1227) scale(1 1.020)" font-size="29.5" stroke="#000" stroke-width="0.45" stroke-linejoin="round">r = -0.025</text>
<text transform="translate(590.6 1261.6) scale(1 1.020)" font-size="29.5" stroke="#000" stroke-width="0.45" stroke-linejoin="round">p = 0.907</text>
<text transform="translate(549.1 1614.6) rotate(-45) scale(1 1.020)" font-size="27" text-anchor="end" stroke="#000" stroke-width="0.45" stroke-linejoin="round">10<tspan dx="1.2" dy="-11.6" font-size="16.74">1</tspan></text>
<text transform="translate(598.1 1614.6) rotate(-45) scale(1 1.020)" font-size="27" text-anchor="end" stroke="#000" stroke-width="0.45" stroke-linejoin="round">10<tspan dx="1.2" dy="-11.6" font-size="16.74">2</tspan></text>
<text transform="translate(646.4 1614.6) rotate(-45) scale(1 1.020)" font-size="27" text-anchor="end" stroke="#000" stroke-width="0.45" stroke-linejoin="round">10<tspan dx="1.2" dy="-11.6" font-size="16.74">3</tspan></text>
<text transform="translate(694.7 1614.6) rotate(-45) scale(1 1.020)" font-size="27" text-anchor="end" stroke="#000" stroke-width="0.45" stroke-linejoin="round">10<tspan dx="1.2" dy="-11.6" font-size="16.74">4</tspan></text>
<text transform="translate(743.7 1614.6) rotate(-45) scale(1 1.020)" font-size="27" text-anchor="end" stroke="#000" stroke-width="0.45" stroke-linejoin="round">10<tspan dx="1.2" dy="-11.6" font-size="16.74">5</tspan></text>
<text transform="translate(793 1614.6) rotate(-45) scale(1 1.020)" font-size="27" text-anchor="end" stroke="#000" stroke-width="0.45" stroke-linejoin="round">10<tspan dx="1.2" dy="-11.6" font-size="16.74">6</tspan></text>
<text transform="translate(842 1614.6) rotate(-45) scale(1 1.020)" font-size="27" text-anchor="end" stroke="#000" stroke-width="0.45" stroke-linejoin="round">10<tspan dx="1.2" dy="-11.6" font-size="16.74">7</tspan></text>
<text transform="translate(890.3 1614.6) rotate(-45) scale(1 1.020)" font-size="27" text-anchor="end" stroke="#000" stroke-width="0.45" stroke-linejoin="round">10<tspan dx="1.2" dy="-11.6" font-size="16.74">8</tspan></text>
<text transform="translate(887.8 1192.6) scale(1 1.015)" font-size="52.4" stroke="#000" stroke-width="0.45" stroke-linejoin="round">H</text>
<line x1="1039.2" y1="1175.3" x2="1039.2" y2="1571.4" stroke="#000000" stroke-width="4.2" stroke-linecap="butt"/>
<line x1="1022.6" y1="1569.1" x2="1432" y2="1569.1" stroke="#000000" stroke-width="4.5" stroke-linecap="butt"/>
<line x1="1022.6" y1="1177.6" x2="1039.2" y2="1177.6" stroke="#000000" stroke-width="4.5" stroke-linecap="butt"/>
<text transform="translate(1018.7 1188.1) scale(1 1.020)" font-size="30" text-anchor="end" stroke="#000" stroke-width="0.45" stroke-linejoin="round">105</text>
<line x1="1022.6" y1="1256" x2="1039.2" y2="1256" stroke="#000000" stroke-width="4.5" stroke-linecap="butt"/>
<text transform="translate(1018.7 1266.5) scale(1 1.020)" font-size="30" text-anchor="end" stroke="#000" stroke-width="0.45" stroke-linejoin="round">100</text>
<line x1="1022.6" y1="1334.3" x2="1039.2" y2="1334.3" stroke="#000000" stroke-width="4.5" stroke-linecap="butt"/>
<text transform="translate(1018.7 1344.8) scale(1 1.020)" font-size="30" text-anchor="end" stroke="#000" stroke-width="0.45" stroke-linejoin="round">95</text>
<line x1="1022.6" y1="1412.6" x2="1039.2" y2="1412.6" stroke="#000000" stroke-width="4.5" stroke-linecap="butt"/>
<text transform="translate(1018.7 1423.1) scale(1 1.020)" font-size="30" text-anchor="end" stroke="#000" stroke-width="0.45" stroke-linejoin="round">90</text>
<line x1="1022.6" y1="1490.9" x2="1039.2" y2="1490.9" stroke="#000000" stroke-width="4.5" stroke-linecap="butt"/>
<text transform="translate(1018.7 1501.4) scale(1 1.020)" font-size="30" text-anchor="end" stroke="#000" stroke-width="0.45" stroke-linejoin="round">85</text>
<text transform="translate(1018.7 1579.6) scale(1 1.020)" font-size="30" text-anchor="end" stroke="#000" stroke-width="0.45" stroke-linejoin="round">80</text>
<line x1="1063.9" y1="1569.1" x2="1063.9" y2="1586.4" stroke="#000000" stroke-width="4.2" stroke-linecap="butt"/>
<line x1="1102" y1="1569.1" x2="1102" y2="1586.4" stroke="#000000" stroke-width="4.2" stroke-linecap="butt"/>
<line x1="1139.9" y1="1569.1" x2="1139.9" y2="1586.4" stroke="#000000" stroke-width="4.2" stroke-linecap="butt"/>
<line x1="1177.7" y1="1569.1" x2="1177.7" y2="1586.4" stroke="#000000" stroke-width="4.2" stroke-linecap="butt"/>
<line x1="1215.5" y1="1569.1" x2="1215.5" y2="1586.4" stroke="#000000" stroke-width="4.2" stroke-linecap="butt"/>
<line x1="1253.3" y1="1569.1" x2="1253.3" y2="1586.4" stroke="#000000" stroke-width="4.2" stroke-linecap="butt"/>
<line x1="1291.2" y1="1569.1" x2="1291.2" y2="1586.4" stroke="#000000" stroke-width="4.2" stroke-linecap="butt"/>
<line x1="1329.1" y1="1569.1" x2="1329.1" y2="1586.4" stroke="#000000" stroke-width="4.2" stroke-linecap="butt"/>
<line x1="1367" y1="1569.1" x2="1367" y2="1586.4" stroke="#000000" stroke-width="4.2" stroke-linecap="butt"/>
<line x1="1404.7" y1="1569.1" x2="1404.7" y2="1586.4" stroke="#000000" stroke-width="4.2" stroke-linecap="butt"/>
<text transform="translate(1063.9 1616.6) scale(1 1.020)" font-size="30" text-anchor="middle" stroke="#000" stroke-width="0.45" stroke-linejoin="round">0</text>
<text transform="translate(1102 1616.6) scale(1 1.020)" font-size="30" text-anchor="middle" stroke="#000" stroke-width="0.45" stroke-linejoin="round">1</text>
<text transform="translate(1139.9 1616.6) scale(1 1.020)" font-size="30" text-anchor="middle" stroke="#000" stroke-width="0.45" stroke-linejoin="round">2</text>
<text transform="translate(1177.7 1616.6) scale(1 1.020)" font-size="30" text-anchor="middle" stroke="#000" stroke-width="0.45" stroke-linejoin="round">3</text>
<text transform="translate(1215.5 1616.6) scale(1 1.020)" font-size="30" text-anchor="middle" stroke="#000" stroke-width="0.45" stroke-linejoin="round">4</text>
<text transform="translate(1253.3 1616.6) scale(1 1.020)" font-size="30" text-anchor="middle" stroke="#000" stroke-width="0.45" stroke-linejoin="round">5</text>
<text transform="translate(1291.2 1616.6) scale(1 1.020)" font-size="30" text-anchor="middle" stroke="#000" stroke-width="0.45" stroke-linejoin="round">6</text>
<text transform="translate(1329.1 1616.6) scale(1 1.020)" font-size="30" text-anchor="middle" stroke="#000" stroke-width="0.45" stroke-linejoin="round">7</text>
<text transform="translate(1367 1616.6) scale(1 1.020)" font-size="30" text-anchor="middle" stroke="#000" stroke-width="0.45" stroke-linejoin="round">8</text>
<text transform="translate(1404.7 1616.6) scale(1 1.020)" font-size="30" text-anchor="middle" stroke="#000" stroke-width="0.45" stroke-linejoin="round">9</text>
<text transform="translate(949.3 1373.4) rotate(-90) scale(1 1.020)" font-size="32.7" text-anchor="middle" stroke="#000" stroke-width="0.45" stroke-linejoin="round">% of Starting Weight</text>
<line x1="1102" y1="1236.6" x2="1102" y2="1198.3" stroke="#7A0A98" stroke-width="1.5" stroke-linecap="butt"/>
<line x1="1094.5" y1="1198.3" x2="1109.5" y2="1198.3" stroke="#7A0A98" stroke-width="1.5" stroke-linecap="butt"/>
<line x1="1139.9" y1="1249.3" x2="1139.9" y2="1223.3" stroke="#7A0A98" stroke-width="1.5" stroke-linecap="butt"/>
<line x1="1132.4" y1="1223.3" x2="1147.4" y2="1223.3" stroke="#7A0A98" stroke-width="1.5" stroke-linecap="butt"/>
<line x1="1177.7" y1="1296.9" x2="1177.7" y2="1265.9" stroke="#7A0A98" stroke-width="1.5" stroke-linecap="butt"/>
<line x1="1170.2" y1="1265.9" x2="1185.2" y2="1265.9" stroke="#7A0A98" stroke-width="1.5" stroke-linecap="butt"/>
<line x1="1215.5" y1="1312.6" x2="1215.5" y2="1266.9" stroke="#7A0A98" stroke-width="1.5" stroke-linecap="butt"/>
<line x1="1208" y1="1266.9" x2="1223" y2="1266.9" stroke="#7A0A98" stroke-width="1.5" stroke-linecap="butt"/>
<line x1="1253.3" y1="1343.6" x2="1253.3" y2="1290.3" stroke="#7A0A98" stroke-width="1.5" stroke-linecap="butt"/>
<line x1="1245.8" y1="1290.3" x2="1260.8" y2="1290.3" stroke="#7A0A98" stroke-width="1.5" stroke-linecap="butt"/>
<line x1="1291.2" y1="1399.2" x2="1291.2" y2="1323.6" stroke="#7A0A98" stroke-width="1.5" stroke-linecap="butt"/>
<line x1="1283.7" y1="1323.6" x2="1298.7" y2="1323.6" stroke="#7A0A98" stroke-width="1.5" stroke-linecap="butt"/>
<line x1="1329.1" y1="1440.8" x2="1329.1" y2="1340.9" stroke="#7A0A98" stroke-width="1.5" stroke-linecap="butt"/>
<line x1="1321.6" y1="1340.9" x2="1336.6" y2="1340.9" stroke="#7A0A98" stroke-width="1.5" stroke-linecap="butt"/>
<line x1="1367" y1="1440.8" x2="1367" y2="1325.9" stroke="#7A0A98" stroke-width="1.5" stroke-linecap="butt"/>
<line x1="1359.5" y1="1325.9" x2="1374.5" y2="1325.9" stroke="#7A0A98" stroke-width="1.5" stroke-linecap="butt"/>
<line x1="1404.7" y1="1374.2" x2="1404.7" y2="1263.6" stroke="#7A0A98" stroke-width="1.5" stroke-linecap="butt"/>
<line x1="1397.2" y1="1263.6" x2="1412.2" y2="1263.6" stroke="#7A0A98" stroke-width="1.5" stroke-linecap="butt"/>
<path d="M1063.9 1256.6L1102 1236.6L1139.9 1249.3L1177.7 1296.9L1215.5 1312.6L1253.3 1343.6L1291.2 1399.2L1329.1 1440.8L1367 1440.8L1404.7 1374.2" fill="none" stroke="#7A0A98" stroke-width="3.9" stroke-linejoin="round" stroke-linecap="round"/>
<circle cx="1063.9" cy="1256.6" r="8" fill="#FFFFFF" stroke="#000000" stroke-width="4.3"/>
<circle cx="1102" cy="1236.6" r="8" fill="#FFFFFF" stroke="#000000" stroke-width="4.3"/>
<circle cx="1139.9" cy="1249.3" r="8" fill="#FFFFFF" stroke="#000000" stroke-width="4.3"/>
<circle cx="1177.7" cy="1296.9" r="8" fill="#FFFFFF" stroke="#000000" stroke-width="4.3"/>
<circle cx="1215.5" cy="1312.6" r="8" fill="#FFFFFF" stroke="#000000" stroke-width="4.3"/>
<circle cx="1253.3" cy="1343.6" r="8" fill="#FFFFFF" stroke="#000000" stroke-width="4.3"/>
<circle cx="1291.2" cy="1399.2" r="8" fill="#FFFFFF" stroke="#000000" stroke-width="4.3"/>
<circle cx="1329.1" cy="1440.8" r="8" fill="#FFFFFF" stroke="#000000" stroke-width="4.3"/>
<circle cx="1367" cy="1440.8" r="8" fill="#FFFFFF" stroke="#000000" stroke-width="4.3"/>
<circle cx="1404.7" cy="1374.2" r="8" fill="#FFFFFF" stroke="#000000" stroke-width="4.3"/>
<line x1="1102" y1="1269.9" x2="1102" y2="1250.9" stroke="#0F9D69" stroke-width="1.5" stroke-linecap="butt"/>
<line x1="1094.5" y1="1250.9" x2="1109.5" y2="1250.9" stroke="#0F9D69" stroke-width="1.5" stroke-linecap="butt"/>
<line x1="1139.9" y1="1259.3" x2="1139.9" y2="1244.3" stroke="#0F9D69" stroke-width="1.5" stroke-linecap="butt"/>
<line x1="1132.4" y1="1244.3" x2="1147.4" y2="1244.3" stroke="#0F9D69" stroke-width="1.5" stroke-linecap="butt"/>
<line x1="1177.7" y1="1310.9" x2="1177.7" y2="1284.3" stroke="#0F9D69" stroke-width="1.5" stroke-linecap="butt"/>
<line x1="1170.2" y1="1284.3" x2="1185.2" y2="1284.3" stroke="#0F9D69" stroke-width="1.5" stroke-linecap="butt"/>
<line x1="1215.5" y1="1354.2" x2="1215.5" y2="1318.6" stroke="#0F9D69" stroke-width="1.5" stroke-linecap="butt"/>
<line x1="1208" y1="1318.6" x2="1223" y2="1318.6" stroke="#0F9D69" stroke-width="1.5" stroke-linecap="butt"/>
<line x1="1253.3" y1="1360.2" x2="1253.3" y2="1287.6" stroke="#0F9D69" stroke-width="1.5" stroke-linecap="butt"/>
<line x1="1245.8" y1="1287.6" x2="1260.8" y2="1287.6" stroke="#0F9D69" stroke-width="1.5" stroke-linecap="butt"/>
<line x1="1291.2" y1="1433.5" x2="1291.2" y2="1364.2" stroke="#0F9D69" stroke-width="1.5" stroke-linecap="butt"/>
<line x1="1283.7" y1="1364.2" x2="1298.7" y2="1364.2" stroke="#0F9D69" stroke-width="1.5" stroke-linecap="butt"/>
<line x1="1329.1" y1="1499.1" x2="1329.1" y2="1457.5" stroke="#0F9D69" stroke-width="1.5" stroke-linecap="butt"/>
<line x1="1321.6" y1="1457.5" x2="1336.6" y2="1457.5" stroke="#0F9D69" stroke-width="1.5" stroke-linecap="butt"/>
<line x1="1367" y1="1489.8" x2="1367" y2="1447.5" stroke="#0F9D69" stroke-width="1.5" stroke-linecap="butt"/>
<line x1="1359.5" y1="1447.5" x2="1374.5" y2="1447.5" stroke="#0F9D69" stroke-width="1.5" stroke-linecap="butt"/>
<line x1="1404.7" y1="1429.2" x2="1404.7" y2="1377.5" stroke="#0F9D69" stroke-width="1.5" stroke-linecap="butt"/>
<line x1="1397.2" y1="1377.5" x2="1412.2" y2="1377.5" stroke="#0F9D69" stroke-width="1.5" stroke-linecap="butt"/>
<path d="M1063.9 1256.6L1102 1269.9L1139.9 1259.3L1177.7 1310.9L1215.5 1354.2L1253.3 1360.2L1291.2 1433.5L1329.1 1499.1L1367 1489.8L1404.7 1429.2" fill="none" stroke="#0F9D69" stroke-width="3.9" stroke-linejoin="round" stroke-linecap="round"/>
<circle cx="1063.9" cy="1256.6" r="8" fill="#0F9D69" stroke="#000000" stroke-width="4.3"/>
<circle cx="1102" cy="1269.9" r="8" fill="#0F9D69" stroke="#000000" stroke-width="4.3"/>
<circle cx="1139.9" cy="1259.3" r="8" fill="#0F9D69" stroke="#000000" stroke-width="4.3"/>
<circle cx="1177.7" cy="1310.9" r="8" fill="#0F9D69" stroke="#000000" stroke-width="4.3"/>
<circle cx="1215.5" cy="1354.2" r="8" fill="#0F9D69" stroke="#000000" stroke-width="4.3"/>
<circle cx="1253.3" cy="1360.2" r="8" fill="#0F9D69" stroke="#000000" stroke-width="4.3"/>
<circle cx="1291.2" cy="1433.5" r="8" fill="#0F9D69" stroke="#000000" stroke-width="4.3"/>
<circle cx="1329.1" cy="1499.1" r="8" fill="#0F9D69" stroke="#000000" stroke-width="4.3"/>
<circle cx="1367" cy="1489.8" r="8" fill="#0F9D69" stroke="#000000" stroke-width="4.3"/>
<circle cx="1404.7" cy="1429.2" r="8" fill="#0F9D69" stroke="#000000" stroke-width="4.3"/>
<text transform="translate(1504.6 1695.4) scale(1 1.020)" font-size="33.2" text-anchor="middle" stroke="#000" stroke-width="0.45" stroke-linejoin="round">Days Post Infection</text>
<text transform="translate(1406.3 1181) scale(1 1.015)" font-size="52.4" stroke="#000" stroke-width="0.45" stroke-linejoin="round">I</text>
<line x1="1546.5" y1="1176" x2="1546.5" y2="1577.1" stroke="#000000" stroke-width="4.2" stroke-linecap="butt"/>
<line x1="1529.4" y1="1574.8" x2="1944" y2="1574.8" stroke="#000000" stroke-width="4.5" stroke-linecap="butt"/>
<line x1="1529.4" y1="1178.3" x2="1546.5" y2="1178.3" stroke="#000000" stroke-width="4.5" stroke-linecap="butt"/>
<text transform="translate(1525.5 1188.8) scale(1 1.020)" font-size="30" text-anchor="end" stroke="#000" stroke-width="0.45" stroke-linejoin="round">1.6</text>
<line x1="1529.4" y1="1277.4" x2="1546.5" y2="1277.4" stroke="#000000" stroke-width="4.5" stroke-linecap="butt"/>
<text transform="translate(1525.5 1287.9) scale(1 1.020)" font-size="30" text-anchor="end" stroke="#000" stroke-width="0.45" stroke-linejoin="round">1.2</text>
<line x1="1529.4" y1="1376.5" x2="1546.5" y2="1376.5" stroke="#000000" stroke-width="4.5" stroke-linecap="butt"/>
<text transform="translate(1525.5 1387) scale(1 1.020)" font-size="30" text-anchor="end" stroke="#000" stroke-width="0.45" stroke-linejoin="round">0.8</text>
<line x1="1529.4" y1="1475.7" x2="1546.5" y2="1475.7" stroke="#000000" stroke-width="4.5" stroke-linecap="butt"/>
<text transform="translate(1525.5 1486.2) scale(1 1.020)" font-size="30" text-anchor="end" stroke="#000" stroke-width="0.45" stroke-linejoin="round">0.4</text>
<text transform="translate(1525.5 1585.3) scale(1 1.020)" font-size="30" text-anchor="end" stroke="#000" stroke-width="0.45" stroke-linejoin="round">0.0</text>
<line x1="1595.9" y1="1574.8" x2="1595.9" y2="1592.1" stroke="#000000" stroke-width="4.2" stroke-linecap="butt"/>
<line x1="1670.1" y1="1574.8" x2="1670.1" y2="1592.1" stroke="#000000" stroke-width="4.2" stroke-linecap="butt"/>
<line x1="1744.3" y1="1574.8" x2="1744.3" y2="1592.1" stroke="#000000" stroke-width="4.2" stroke-linecap="butt"/>
<line x1="1818.6" y1="1574.8" x2="1818.6" y2="1592.1" stroke="#000000" stroke-width="4.2" stroke-linecap="butt"/>
<line x1="1893" y1="1574.8" x2="1893" y2="1592.1" stroke="#000000" stroke-width="4.2" stroke-linecap="butt"/>
<text transform="translate(1595.9 1623.2) scale(1 1.020)" font-size="30" text-anchor="middle" stroke="#000" stroke-width="0.45" stroke-linejoin="round">0</text>
<text transform="translate(1670.1 1623.2) scale(1 1.020)" font-size="30" text-anchor="middle" stroke="#000" stroke-width="0.45" stroke-linejoin="round">2</text>
<text transform="translate(1744.3 1623.2) scale(1 1.020)" font-size="30" text-anchor="middle" stroke="#000" stroke-width="0.45" stroke-linejoin="round">4</text>
<text transform="translate(1818.6 1623.2) scale(1 1.020)" font-size="30" text-anchor="middle" stroke="#000" stroke-width="0.45" stroke-linejoin="round">6</text>
<text transform="translate(1893 1623.2) scale(1 1.020)" font-size="30" text-anchor="middle" stroke="#000" stroke-width="0.45" stroke-linejoin="round">8</text>
<text transform="translate(1464.3 1376.7) rotate(-90) scale(1 1.020)" font-size="32.7" text-anchor="middle" stroke="#000" stroke-width="0.45" stroke-linejoin="round">Disease Score</text>
<line x1="1818.6" y1="1548.1" x2="1818.6" y2="1464.8" stroke="#7A0A98" stroke-width="1.5" stroke-linecap="butt"/>
<line x1="1811.1" y1="1464.8" x2="1826.1" y2="1464.8" stroke="#7A0A98" stroke-width="1.5" stroke-linecap="butt"/>
<line x1="1893" y1="1548.1" x2="1893" y2="1464.8" stroke="#7A0A98" stroke-width="1.5" stroke-linecap="butt"/>
<line x1="1885.5" y1="1464.8" x2="1900.5" y2="1464.8" stroke="#7A0A98" stroke-width="1.5" stroke-linecap="butt"/>
<path d="M1744.3 1574.8L1818.6 1548.1L1893 1548.1" fill="none" stroke="#7A0A98" stroke-width="3.9" stroke-linejoin="round" stroke-linecap="round"/>
<circle cx="1818.6" cy="1548.1" r="8" fill="#FFFFFF" stroke="#000000" stroke-width="4.3"/>
<circle cx="1893" cy="1548.1" r="8" fill="#FFFFFF" stroke="#000000" stroke-width="4.3"/>
<line x1="1818.6" y1="1410.2" x2="1818.6" y2="1282.6" stroke="#0F9D69" stroke-width="1.5" stroke-linecap="butt"/>
<line x1="1811.1" y1="1282.6" x2="1826.1" y2="1282.6" stroke="#0F9D69" stroke-width="1.5" stroke-linecap="butt"/>
<line x1="1893" y1="1369.2" x2="1893" y2="1267.6" stroke="#0F9D69" stroke-width="1.5" stroke-linecap="butt"/>
<line x1="1885.5" y1="1267.6" x2="1900.5" y2="1267.6" stroke="#0F9D69" stroke-width="1.5" stroke-linecap="butt"/>
<path d="M1595.9 1574.8L1670.1 1574.8L1744.3 1574.8L1818.6 1410.2L1893 1369.2" fill="none" stroke="#0F9D69" stroke-width="3.9" stroke-linejoin="round" stroke-linecap="round"/>
<circle cx="1595.9" cy="1574.8" r="8" fill="#0F9D69" stroke="#000000" stroke-width="4.3"/>
<circle cx="1670.1" cy="1574.8" r="8" fill="#0F9D69" stroke="#000000" stroke-width="4.3"/>
<circle cx="1744.3" cy="1574.8" r="8" fill="#0F9D69" stroke="#000000" stroke-width="4.3"/>
<circle cx="1818.6" cy="1410.2" r="8" fill="#0F9D69" stroke="#000000" stroke-width="4.3"/>
<circle cx="1893" cy="1369.2" r="8" fill="#0F9D69" stroke="#000000" stroke-width="4.3"/>
<line x1="1924" y1="1351.6" x2="1924" y2="1548.1" stroke="#000000" stroke-width="1.5" stroke-linecap="butt"/>
<text transform="translate(1946 1470.8) scale(1 1.001)" font-size="32" text-anchor="middle" font-weight="bold" style="font-family:'DejaVu Sans', 'Liberation Sans', sans-serif" stroke="#000" stroke-width="0.7" stroke-linejoin="round">*</text>
</svg>
</body>
</html>
